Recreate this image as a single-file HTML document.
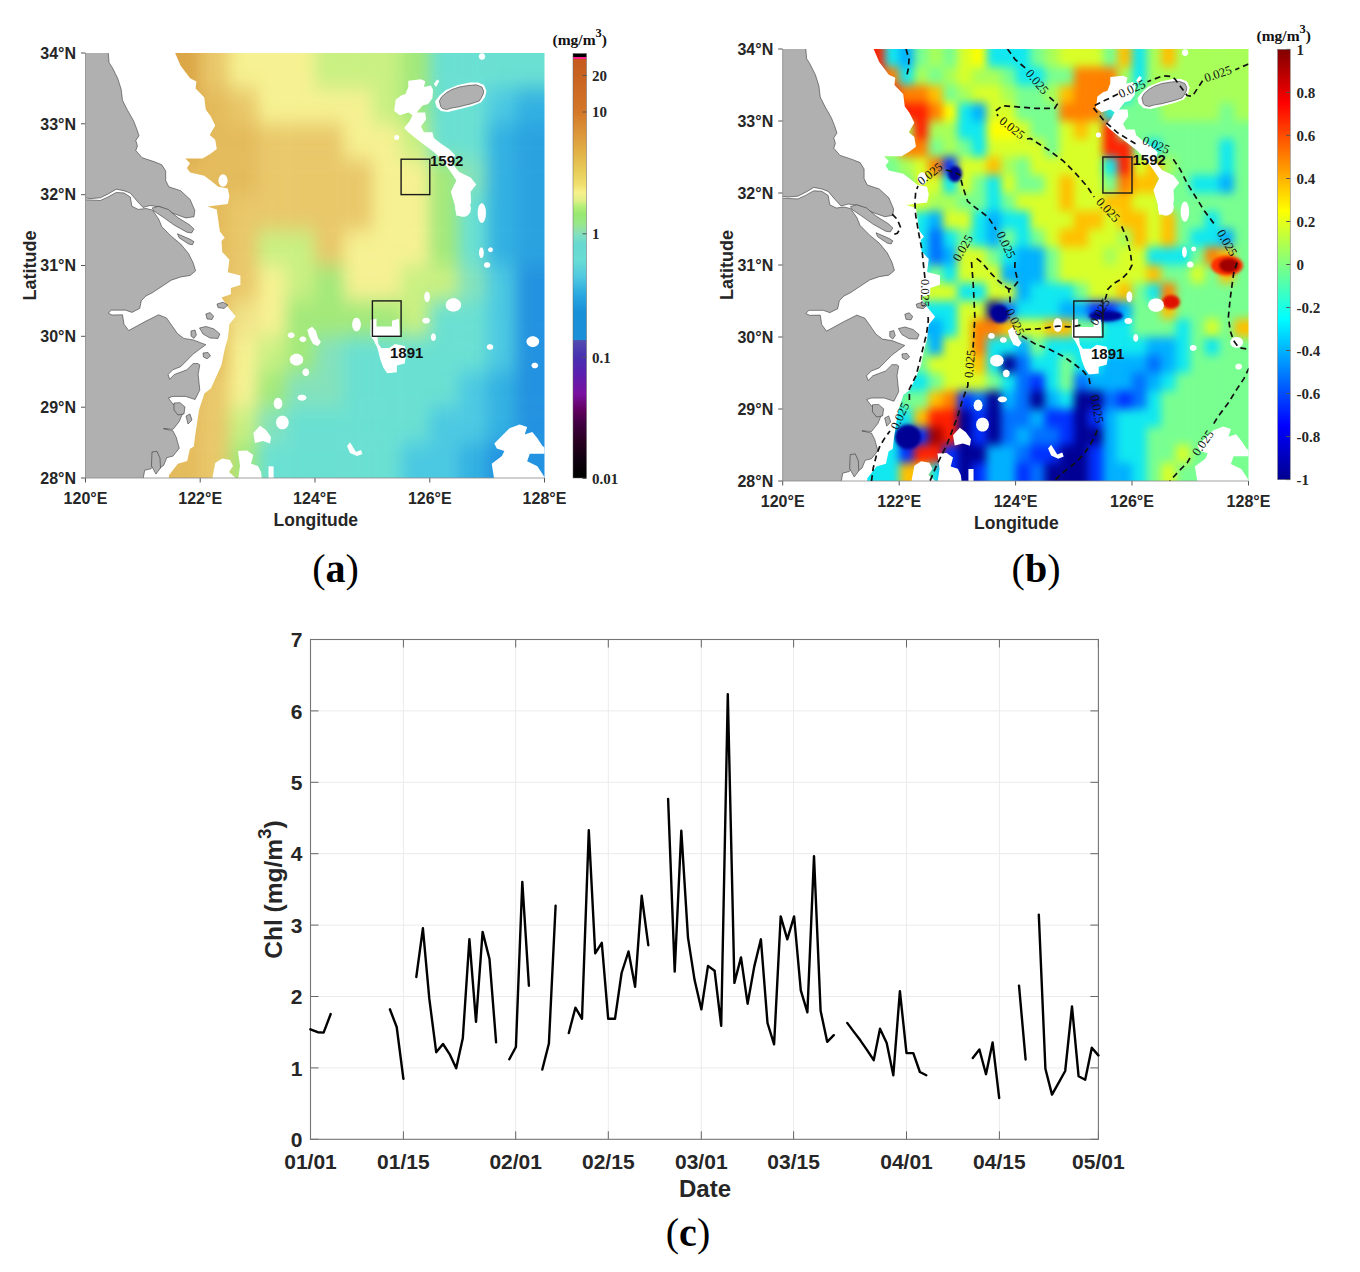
<!DOCTYPE html>
<html><head><meta charset="utf-8"><style>
html,body{margin:0;padding:0;background:#fff;width:1360px;height:1272px;overflow:hidden}
svg{display:block}
</style></head><body>
<svg width="1360" height="1272" viewBox="0 0 1360 1272">
<rect width="1360" height="1272" fill="#fff"/>
<g id="chartc">
<path d="M403.4 639.5V1139.3 M515.7 639.5V1139.3 M608.3 639.5V1139.3 M701.3 639.5V1139.3 M793.6 639.5V1139.3 M906.5 639.5V1139.3 M999.4 639.5V1139.3 M310.5 1067.9H1098.4 M310.5 996.5H1098.4 M310.5 925.1H1098.4 M310.5 853.7H1098.4 M310.5 782.3H1098.4 M310.5 710.9H1098.4" stroke="#ebebeb" stroke-width="1" fill="none"/>
<path d="M310.5 1139.3v-8M310.5 639.5v8 M403.4 1139.3v-8M403.4 639.5v8 M515.7 1139.3v-8M515.7 639.5v8 M608.3 1139.3v-8M608.3 639.5v8 M701.3 1139.3v-8M701.3 639.5v8 M793.6 1139.3v-8M793.6 639.5v8 M906.5 1139.3v-8M906.5 639.5v8 M999.4 1139.3v-8M999.4 639.5v8 M1098.4 1139.3v-8M1098.4 639.5v8 M310.5 1139.3h8M1098.4 1139.3h-8 M310.5 1067.9h8M1098.4 1067.9h-8 M310.5 996.5h8M1098.4 996.5h-8 M310.5 925.1h8M1098.4 925.1h-8 M310.5 853.7h8M1098.4 853.7h-8 M310.5 782.3h8M1098.4 782.3h-8 M310.5 710.9h8M1098.4 710.9h-8 M310.5 639.5h8M1098.4 639.5h-8" stroke="#666" stroke-width="1" fill="none"/>
<rect x="310.5" y="639.5" width="787.9" height="499.8" fill="none" stroke="#747474" stroke-width="1.1"/>
<path d="M310.4 1029.3 L317.7 1032.2 L323.6 1032.6 L330.7 1014.0 M389.9 1009.3 L396.7 1027.0 L403.4 1078.9 M416.3 977.0 L422.9 928.3 L429.3 998.7 L436.2 1052.2 L443.0 1044.0 L449.6 1054.1 L456.2 1068.3 L462.8 1038.3 L469.4 939.2 L476.0 1021.8 L482.6 931.9 L489.5 959.0 L496.1 1042.3 M509.3 1059.3 L515.9 1047.0 L522.3 881.9 L528.9 985.7 M542.3 1069.5 L548.9 1043.5 L555.6 905.7 M568.8 1033.0 L575.4 1007.7 L582.0 1018.8 L588.8 830.3 L595.2 953.4 L601.8 942.8 L608.2 1018.8 L615.0 1018.8 L621.6 973.0 L628.5 951.5 L635.1 986.7 L641.7 895.6 L648.3 945.2 M668.1 798.9 L674.7 971.6 L681.3 830.7 L688.0 937.6 L694.6 980.1 L701.4 1009.4 L708.0 965.9 L714.6 970.7 L721.2 1025.9 L727.8 694.3 L734.4 982.9 L741.0 957.4 L747.6 1003.7 L754.3 966.4 L760.9 939.3 L767.5 1023.0 L774.1 1044.3 L780.7 916.4 L787.3 939.3 L794.1 916.4 L800.8 990.4 L807.4 1012.3 L814.0 856.1 L820.6 1010.7 L827.2 1041.8 L833.8 1035.2 M847.2 1022.9 L853.9 1031.9 L860.5 1040.6 L867.1 1050.1 L873.7 1060.2 L880.0 1028.8 L886.7 1043.0 L893.3 1075.3 L899.9 991.1 L906.5 1053.1 L913.3 1053.1 L919.9 1072.0 L926.3 1075.3 M972.8 1058.0 L979.4 1049.5 L986.0 1074.2 L992.6 1042.4 L999.2 1098.0 M1019.0 985.6 L1025.6 1059.5 M1038.8 914.8 L1045.4 1068.8 L1052.0 1094.6 L1058.6 1082.9 L1065.2 1071.0 L1072.0 1006.5 L1078.6 1076.3 L1085.2 1079.8 L1091.8 1047.7 L1098.4 1055.4" stroke="#000" stroke-width="2.4" fill="none" stroke-linejoin="round" stroke-linecap="round"/>
<text x="302.5" y="1146.9" text-anchor="end" font-family="Liberation Sans, sans-serif" font-weight="bold" font-size="21" fill="#262626">0</text>
<text x="302.5" y="1075.5" text-anchor="end" font-family="Liberation Sans, sans-serif" font-weight="bold" font-size="21" fill="#262626">1</text>
<text x="302.5" y="1004.1" text-anchor="end" font-family="Liberation Sans, sans-serif" font-weight="bold" font-size="21" fill="#262626">2</text>
<text x="302.5" y="932.7" text-anchor="end" font-family="Liberation Sans, sans-serif" font-weight="bold" font-size="21" fill="#262626">3</text>
<text x="302.5" y="861.3" text-anchor="end" font-family="Liberation Sans, sans-serif" font-weight="bold" font-size="21" fill="#262626">4</text>
<text x="302.5" y="789.9" text-anchor="end" font-family="Liberation Sans, sans-serif" font-weight="bold" font-size="21" fill="#262626">5</text>
<text x="302.5" y="718.5" text-anchor="end" font-family="Liberation Sans, sans-serif" font-weight="bold" font-size="21" fill="#262626">6</text>
<text x="302.5" y="647.1" text-anchor="end" font-family="Liberation Sans, sans-serif" font-weight="bold" font-size="21" fill="#262626">7</text>
<text x="310.5" y="1169" text-anchor="middle" font-family="Liberation Sans, sans-serif" font-weight="bold" font-size="21" fill="#262626">01/01</text>
<text x="403.4" y="1169" text-anchor="middle" font-family="Liberation Sans, sans-serif" font-weight="bold" font-size="21" fill="#262626">01/15</text>
<text x="515.7" y="1169" text-anchor="middle" font-family="Liberation Sans, sans-serif" font-weight="bold" font-size="21" fill="#262626">02/01</text>
<text x="608.3" y="1169" text-anchor="middle" font-family="Liberation Sans, sans-serif" font-weight="bold" font-size="21" fill="#262626">02/15</text>
<text x="701.3" y="1169" text-anchor="middle" font-family="Liberation Sans, sans-serif" font-weight="bold" font-size="21" fill="#262626">03/01</text>
<text x="793.6" y="1169" text-anchor="middle" font-family="Liberation Sans, sans-serif" font-weight="bold" font-size="21" fill="#262626">03/15</text>
<text x="906.5" y="1169" text-anchor="middle" font-family="Liberation Sans, sans-serif" font-weight="bold" font-size="21" fill="#262626">04/01</text>
<text x="999.4" y="1169" text-anchor="middle" font-family="Liberation Sans, sans-serif" font-weight="bold" font-size="21" fill="#262626">04/15</text>
<text x="1098.4" y="1169" text-anchor="middle" font-family="Liberation Sans, sans-serif" font-weight="bold" font-size="21" fill="#262626">05/01</text>
<text x="705" y="1197" text-anchor="middle" font-family="Liberation Sans, sans-serif" font-weight="bold" font-size="24" fill="#262626">Date</text>
<text transform="translate(282.3,889.5) rotate(-90)" text-anchor="middle" font-family="Liberation Sans, sans-serif" font-weight="bold" font-size="24.5" fill="#262626">Chl (mg/m<tspan dy="-11" font-size="19">3</tspan><tspan dy="11">)</tspan></text>
<text x="688" y="1246" text-anchor="middle" font-family="Liberation Serif, serif" font-size="40" fill="#000">(<tspan font-weight="bold">c</tspan>)</text>
</g>
<svg x="85.5" y="53" width="459.0" height="425.0" viewBox="0 0 800 600" preserveAspectRatio="none" overflow="hidden"><defs><clipPath id="clipA"><polygon points="156.2,0.0 165.8,17.9 182.3,35.7 193.3,40.1 191.9,50.1 206.9,62.4 209.7,80.0 217.9,88.9 226.1,102.4 216.5,115.6 226.1,122.3 228.8,135.7 217.9,142.3 204.1,148.9 173.9,148.9 182.3,155.6 176.7,162.2 182.3,168.8 206.9,173.4 217.9,180.0 231.6,188.9 248.0,191.2 250.8,202.2 248.0,213.3 212.5,216.6 228.8,220.8 234.2,251.9 242.6,260.8 237.0,265.3 238.4,280.8 250.8,291.8 248.0,309.6 270.0,314.1 270.0,327.4 253.4,331.9 253.4,340.7 237.0,345.2 248.0,358.4 261.8,371.9 250.8,382.9 248.0,402.9 242.6,418.4 237.0,440.6 230.2,452.8 218.7,473.2 207.2,480.7 198.0,503.2 191.0,540.6 188.8,555.5 181.8,559.2 177.3,576.0 161.0,579.8 145.0,596.6 145.0,601.4 850.0,606.0 850.0,-6.0"/></clipPath><filter id="blurA" x="-20%" y="-20%" width="140%" height="140%" color-interpolation-filters="sRGB"><feGaussianBlur stdDeviation="14"/></filter></defs><g clip-path="url(#clipA)"><g filter="url(#blurA)"><rect x="-60.00" y="-60.00" width="110.40" height="110.40" fill="#dba646"/><rect x="50.00" y="-60.00" width="50.40" height="110.40" fill="#dba646"/><rect x="100.00" y="-60.00" width="50.40" height="110.40" fill="#dba646"/><rect x="150.00" y="-60.00" width="50.40" height="110.40" fill="#dba646"/><rect x="200.00" y="-60.00" width="50.40" height="110.40" fill="#e9c86a"/><rect x="250.00" y="-60.00" width="50.40" height="110.40" fill="#f6f192"/><rect x="300.00" y="-60.00" width="50.40" height="110.40" fill="#f6f192"/><rect x="350.00" y="-60.00" width="50.40" height="110.40" fill="#f6f192"/><rect x="400.00" y="-60.00" width="50.40" height="110.40" fill="#c9f082"/><rect x="450.00" y="-60.00" width="50.40" height="110.40" fill="#c9f082"/><rect x="500.00" y="-60.00" width="50.40" height="110.40" fill="#c9f082"/><rect x="550.00" y="-60.00" width="50.40" height="110.40" fill="#a3e97a"/><rect x="600.00" y="-60.00" width="50.40" height="110.40" fill="#6ae0d2"/><rect x="650.00" y="-60.00" width="50.40" height="110.40" fill="#6ae0d2"/><rect x="700.00" y="-60.00" width="50.40" height="110.40" fill="#6ae0d2"/><rect x="750.00" y="-60.00" width="110.40" height="110.40" fill="#6ae0d2"/><rect x="-60.00" y="50.00" width="110.40" height="50.40" fill="#dba646"/><rect x="50.00" y="50.00" width="50.40" height="50.40" fill="#dba646"/><rect x="100.00" y="50.00" width="50.40" height="50.40" fill="#dba646"/><rect x="150.00" y="50.00" width="50.40" height="50.40" fill="#dba646"/><rect x="200.00" y="50.00" width="50.40" height="50.40" fill="#e4bb5c"/><rect x="250.00" y="50.00" width="50.40" height="50.40" fill="#e9c86a"/><rect x="300.00" y="50.00" width="50.40" height="50.40" fill="#f6f192"/><rect x="350.00" y="50.00" width="50.40" height="50.40" fill="#f6f192"/><rect x="400.00" y="50.00" width="50.40" height="50.40" fill="#f6f192"/><rect x="450.00" y="50.00" width="50.40" height="50.40" fill="#f6f192"/><rect x="500.00" y="50.00" width="50.40" height="50.40" fill="#c9f082"/><rect x="550.00" y="50.00" width="50.40" height="50.40" fill="#a3e97a"/><rect x="600.00" y="50.00" width="50.40" height="50.40" fill="#6ae0d2"/><rect x="650.00" y="50.00" width="50.40" height="50.40" fill="#6ae0d2"/><rect x="700.00" y="50.00" width="50.40" height="50.40" fill="#4cc9e2"/><rect x="750.00" y="50.00" width="110.40" height="50.40" fill="#33b1e2"/><rect x="-60.00" y="100.00" width="110.40" height="50.40" fill="#dba646"/><rect x="50.00" y="100.00" width="50.40" height="50.40" fill="#dba646"/><rect x="100.00" y="100.00" width="50.40" height="50.40" fill="#dba646"/><rect x="150.00" y="100.00" width="50.40" height="50.40" fill="#dba646"/><rect x="200.00" y="100.00" width="50.40" height="50.40" fill="#e4bb5c"/><rect x="250.00" y="100.00" width="50.40" height="50.40" fill="#e4bb5c"/><rect x="300.00" y="100.00" width="50.40" height="50.40" fill="#e9c86a"/><rect x="350.00" y="100.00" width="50.40" height="50.40" fill="#e9c86a"/><rect x="400.00" y="100.00" width="50.40" height="50.40" fill="#e9c86a"/><rect x="450.00" y="100.00" width="50.40" height="50.40" fill="#f6f192"/><rect x="500.00" y="100.00" width="50.40" height="50.40" fill="#f6f192"/><rect x="550.00" y="100.00" width="50.40" height="50.40" fill="#c9f082"/><rect x="600.00" y="100.00" width="50.40" height="50.40" fill="#6ae0d2"/><rect x="650.00" y="100.00" width="50.40" height="50.40" fill="#6ae0d2"/><rect x="700.00" y="100.00" width="50.40" height="50.40" fill="#33b1e2"/><rect x="750.00" y="100.00" width="110.40" height="50.40" fill="#2aa2e0"/><rect x="-60.00" y="150.00" width="110.40" height="50.40" fill="#e4bb5c"/><rect x="50.00" y="150.00" width="50.40" height="50.40" fill="#e4bb5c"/><rect x="100.00" y="150.00" width="50.40" height="50.40" fill="#e4bb5c"/><rect x="150.00" y="150.00" width="50.40" height="50.40" fill="#e4bb5c"/><rect x="200.00" y="150.00" width="50.40" height="50.40" fill="#e4bb5c"/><rect x="250.00" y="150.00" width="50.40" height="50.40" fill="#e4bb5c"/><rect x="300.00" y="150.00" width="50.40" height="50.40" fill="#e9c86a"/><rect x="350.00" y="150.00" width="50.40" height="50.40" fill="#e9c86a"/><rect x="400.00" y="150.00" width="50.40" height="50.40" fill="#e9c86a"/><rect x="450.00" y="150.00" width="50.40" height="50.40" fill="#e9c86a"/><rect x="500.00" y="150.00" width="50.40" height="50.40" fill="#f6f192"/><rect x="550.00" y="150.00" width="50.40" height="50.40" fill="#f6f192"/><rect x="600.00" y="150.00" width="50.40" height="50.40" fill="#a3e97a"/><rect x="650.00" y="150.00" width="50.40" height="50.40" fill="#84e2bc"/><rect x="700.00" y="150.00" width="50.40" height="50.40" fill="#33b1e2"/><rect x="750.00" y="150.00" width="110.40" height="50.40" fill="#2aa2e0"/><rect x="-60.00" y="200.00" width="110.40" height="50.40" fill="#e4bb5c"/><rect x="50.00" y="200.00" width="50.40" height="50.40" fill="#e4bb5c"/><rect x="100.00" y="200.00" width="50.40" height="50.40" fill="#e4bb5c"/><rect x="150.00" y="200.00" width="50.40" height="50.40" fill="#e4bb5c"/><rect x="200.00" y="200.00" width="50.40" height="50.40" fill="#e4bb5c"/><rect x="250.00" y="200.00" width="50.40" height="50.40" fill="#e9c86a"/><rect x="300.00" y="200.00" width="50.40" height="50.40" fill="#e9c86a"/><rect x="350.00" y="200.00" width="50.40" height="50.40" fill="#e9c86a"/><rect x="400.00" y="200.00" width="50.40" height="50.40" fill="#e9c86a"/><rect x="450.00" y="200.00" width="50.40" height="50.40" fill="#e9c86a"/><rect x="500.00" y="200.00" width="50.40" height="50.40" fill="#f6f192"/><rect x="550.00" y="200.00" width="50.40" height="50.40" fill="#f6f192"/><rect x="600.00" y="200.00" width="50.40" height="50.40" fill="#a3e97a"/><rect x="650.00" y="200.00" width="50.40" height="50.40" fill="#6ae0d2"/><rect x="700.00" y="200.00" width="50.40" height="50.40" fill="#33b1e2"/><rect x="750.00" y="200.00" width="110.40" height="50.40" fill="#2aa2e0"/><rect x="-60.00" y="250.00" width="110.40" height="50.40" fill="#e4bb5c"/><rect x="50.00" y="250.00" width="50.40" height="50.40" fill="#e4bb5c"/><rect x="100.00" y="250.00" width="50.40" height="50.40" fill="#e4bb5c"/><rect x="150.00" y="250.00" width="50.40" height="50.40" fill="#e4bb5c"/><rect x="200.00" y="250.00" width="50.40" height="50.40" fill="#e4bb5c"/><rect x="250.00" y="250.00" width="50.40" height="50.40" fill="#e9c86a"/><rect x="300.00" y="250.00" width="50.40" height="50.40" fill="#c9f082"/><rect x="350.00" y="250.00" width="50.40" height="50.40" fill="#c9f082"/><rect x="400.00" y="250.00" width="50.40" height="50.40" fill="#e9c86a"/><rect x="450.00" y="250.00" width="50.40" height="50.40" fill="#f6f192"/><rect x="500.00" y="250.00" width="50.40" height="50.40" fill="#f6f192"/><rect x="550.00" y="250.00" width="50.40" height="50.40" fill="#f6f192"/><rect x="600.00" y="250.00" width="50.40" height="50.40" fill="#a3e97a"/><rect x="650.00" y="250.00" width="50.40" height="50.40" fill="#6ae0d2"/><rect x="700.00" y="250.00" width="50.40" height="50.40" fill="#33b1e2"/><rect x="750.00" y="250.00" width="110.40" height="50.40" fill="#2aa2e0"/><rect x="-60.00" y="300.00" width="110.40" height="50.40" fill="#e4bb5c"/><rect x="50.00" y="300.00" width="50.40" height="50.40" fill="#e4bb5c"/><rect x="100.00" y="300.00" width="50.40" height="50.40" fill="#e4bb5c"/><rect x="150.00" y="300.00" width="50.40" height="50.40" fill="#e4bb5c"/><rect x="200.00" y="300.00" width="50.40" height="50.40" fill="#e4bb5c"/><rect x="250.00" y="300.00" width="50.40" height="50.40" fill="#e9c86a"/><rect x="300.00" y="300.00" width="50.40" height="50.40" fill="#f6f192"/><rect x="350.00" y="300.00" width="50.40" height="50.40" fill="#c9f082"/><rect x="400.00" y="300.00" width="50.40" height="50.40" fill="#a3e97a"/><rect x="450.00" y="300.00" width="50.40" height="50.40" fill="#f6f192"/><rect x="500.00" y="300.00" width="50.40" height="50.40" fill="#f6f192"/><rect x="550.00" y="300.00" width="50.40" height="50.40" fill="#c9f082"/><rect x="600.00" y="300.00" width="50.40" height="50.40" fill="#c9f082"/><rect x="650.00" y="300.00" width="50.40" height="50.40" fill="#84e2bc"/><rect x="700.00" y="300.00" width="50.40" height="50.40" fill="#4cc9e2"/><rect x="750.00" y="300.00" width="110.40" height="50.40" fill="#2392e0"/><rect x="-60.00" y="350.00" width="110.40" height="50.40" fill="#e4bb5c"/><rect x="50.00" y="350.00" width="50.40" height="50.40" fill="#e4bb5c"/><rect x="100.00" y="350.00" width="50.40" height="50.40" fill="#e4bb5c"/><rect x="150.00" y="350.00" width="50.40" height="50.40" fill="#e4bb5c"/><rect x="200.00" y="350.00" width="50.40" height="50.40" fill="#e4bb5c"/><rect x="250.00" y="350.00" width="50.40" height="50.40" fill="#f1e288"/><rect x="300.00" y="350.00" width="50.40" height="50.40" fill="#f6f192"/><rect x="350.00" y="350.00" width="50.40" height="50.40" fill="#a3e97a"/><rect x="400.00" y="350.00" width="50.40" height="50.40" fill="#a3e97a"/><rect x="450.00" y="350.00" width="50.40" height="50.40" fill="#a3e97a"/><rect x="500.00" y="350.00" width="50.40" height="50.40" fill="#a3e97a"/><rect x="550.00" y="350.00" width="50.40" height="50.40" fill="#c9f082"/><rect x="600.00" y="350.00" width="50.40" height="50.40" fill="#6ae0d2"/><rect x="650.00" y="350.00" width="50.40" height="50.40" fill="#6ae0d2"/><rect x="700.00" y="350.00" width="50.40" height="50.40" fill="#4cc9e2"/><rect x="750.00" y="350.00" width="110.40" height="50.40" fill="#2392e0"/><rect x="-60.00" y="400.00" width="110.40" height="50.40" fill="#e4bb5c"/><rect x="50.00" y="400.00" width="50.40" height="50.40" fill="#e4bb5c"/><rect x="100.00" y="400.00" width="50.40" height="50.40" fill="#e4bb5c"/><rect x="150.00" y="400.00" width="50.40" height="50.40" fill="#e4bb5c"/><rect x="200.00" y="400.00" width="50.40" height="50.40" fill="#e4bb5c"/><rect x="250.00" y="400.00" width="50.40" height="50.40" fill="#f6f192"/><rect x="300.00" y="400.00" width="50.40" height="50.40" fill="#c9f082"/><rect x="350.00" y="400.00" width="50.40" height="50.40" fill="#a3e97a"/><rect x="400.00" y="400.00" width="50.40" height="50.40" fill="#84e2bc"/><rect x="450.00" y="400.00" width="50.40" height="50.40" fill="#6ae0d2"/><rect x="500.00" y="400.00" width="50.40" height="50.40" fill="#6ae0d2"/><rect x="550.00" y="400.00" width="50.40" height="50.40" fill="#6ae0d2"/><rect x="600.00" y="400.00" width="50.40" height="50.40" fill="#6ae0d2"/><rect x="650.00" y="400.00" width="50.40" height="50.40" fill="#6ae0d2"/><rect x="700.00" y="400.00" width="50.40" height="50.40" fill="#4cc9e2"/><rect x="750.00" y="400.00" width="110.40" height="50.40" fill="#2392e0"/><rect x="-60.00" y="450.00" width="110.40" height="50.40" fill="#e4bb5c"/><rect x="50.00" y="450.00" width="50.40" height="50.40" fill="#e4bb5c"/><rect x="100.00" y="450.00" width="50.40" height="50.40" fill="#e4bb5c"/><rect x="150.00" y="450.00" width="50.40" height="50.40" fill="#e4bb5c"/><rect x="200.00" y="450.00" width="50.40" height="50.40" fill="#e9c86a"/><rect x="250.00" y="450.00" width="50.40" height="50.40" fill="#f6f192"/><rect x="300.00" y="450.00" width="50.40" height="50.40" fill="#a3e97a"/><rect x="350.00" y="450.00" width="50.40" height="50.40" fill="#84e2bc"/><rect x="400.00" y="450.00" width="50.40" height="50.40" fill="#84e2bc"/><rect x="450.00" y="450.00" width="50.40" height="50.40" fill="#6ae0d2"/><rect x="500.00" y="450.00" width="50.40" height="50.40" fill="#6ae0d2"/><rect x="550.00" y="450.00" width="50.40" height="50.40" fill="#6ae0d2"/><rect x="600.00" y="450.00" width="50.40" height="50.40" fill="#6ae0d2"/><rect x="650.00" y="450.00" width="50.40" height="50.40" fill="#4cc9e2"/><rect x="700.00" y="450.00" width="50.40" height="50.40" fill="#33b1e2"/><rect x="750.00" y="450.00" width="110.40" height="50.40" fill="#2392e0"/><rect x="-60.00" y="500.00" width="110.40" height="50.40" fill="#e4bb5c"/><rect x="50.00" y="500.00" width="50.40" height="50.40" fill="#e4bb5c"/><rect x="100.00" y="500.00" width="50.40" height="50.40" fill="#e4bb5c"/><rect x="150.00" y="500.00" width="50.40" height="50.40" fill="#e4bb5c"/><rect x="200.00" y="500.00" width="50.40" height="50.40" fill="#e9c86a"/><rect x="250.00" y="500.00" width="50.40" height="50.40" fill="#c9f082"/><rect x="300.00" y="500.00" width="50.40" height="50.40" fill="#84e2bc"/><rect x="350.00" y="500.00" width="50.40" height="50.40" fill="#6ae0d2"/><rect x="400.00" y="500.00" width="50.40" height="50.40" fill="#6ae0d2"/><rect x="450.00" y="500.00" width="50.40" height="50.40" fill="#6ae0d2"/><rect x="500.00" y="500.00" width="50.40" height="50.40" fill="#6ae0d2"/><rect x="550.00" y="500.00" width="50.40" height="50.40" fill="#6ae0d2"/><rect x="600.00" y="500.00" width="50.40" height="50.40" fill="#4cc9e2"/><rect x="650.00" y="500.00" width="50.40" height="50.40" fill="#4cc9e2"/><rect x="700.00" y="500.00" width="50.40" height="50.40" fill="#33b1e2"/><rect x="750.00" y="500.00" width="110.40" height="50.40" fill="#2392e0"/><rect x="-60.00" y="550.00" width="110.40" height="110.40" fill="#e4bb5c"/><rect x="50.00" y="550.00" width="50.40" height="110.40" fill="#e4bb5c"/><rect x="100.00" y="550.00" width="50.40" height="110.40" fill="#e4bb5c"/><rect x="150.00" y="550.00" width="50.40" height="110.40" fill="#e4bb5c"/><rect x="200.00" y="550.00" width="50.40" height="110.40" fill="#e9c86a"/><rect x="250.00" y="550.00" width="50.40" height="110.40" fill="#a3e97a"/><rect x="300.00" y="550.00" width="50.40" height="110.40" fill="#6ae0d2"/><rect x="350.00" y="550.00" width="50.40" height="110.40" fill="#6ae0d2"/><rect x="400.00" y="550.00" width="50.40" height="110.40" fill="#6ae0d2"/><rect x="450.00" y="550.00" width="50.40" height="110.40" fill="#6ae0d2"/><rect x="500.00" y="550.00" width="50.40" height="110.40" fill="#6ae0d2"/><rect x="550.00" y="550.00" width="50.40" height="110.40" fill="#4cc9e2"/><rect x="600.00" y="550.00" width="50.40" height="110.40" fill="#4cc9e2"/><rect x="650.00" y="550.00" width="50.40" height="110.40" fill="#33b1e2"/><rect x="700.00" y="550.00" width="50.40" height="110.40" fill="#2392e0"/><rect x="750.00" y="550.00" width="110.40" height="110.40" fill="#2392e0"/></g></g><g fill="#fff"><polygon points="562.6,39.0 584.7,37.0 592.2,40.0 589.8,48.0 602.0,45.9 605.8,52.0 604.6,64.0 597.1,71.9 587.4,74.0 577.4,83.9 592.2,83.9 593.5,93.9 584.7,103.9 589.8,111.8 604.6,111.8 607.1,119.9 619.3,127.9 634.1,135.8 644.0,143.9 639.1,155.9 651.3,167.9 671.2,175.8 681.0,185.8 671.2,195.8 671.9,207.5 671.9,211.8 666.7,219.8 659.7,223.1 658.8,229.7 646.4,229.7 644.0,215.7 636.7,195.8 646.4,179.9 636.7,167.9 621.9,151.8 607.1,139.9 587.4,127.9 575.0,119.9 562.6,111.8 555.3,105.9 565.1,95.9 569.9,88.0 562.6,83.9 547.8,88.0 538.0,81.9 540.5,65.9 550.2,60.0 557.7,57.9 562.6,48.0"/><polygon points="698.0,225.9 697.5,231.2 695.9,235.8 693.5,238.8 690.7,239.9 687.9,238.8 685.5,235.8 684.0,231.2 683.4,225.9 684.0,220.5 685.5,216.0 687.9,213.0 690.7,211.9 693.5,213.0 695.9,216.0 697.5,220.5"/><polygon points="546.8,119.3 545.9,121.5 543.6,122.8 540.8,122.8 538.6,121.5 537.7,119.3 538.6,117.1 540.8,115.8 543.6,115.8 545.9,117.1"/><polygon points="696.6,4.9 695.6,7.8 692.8,9.6 689.3,9.6 686.6,7.8 685.5,4.9 686.6,2.0 689.3,0.2 692.8,0.2 695.6,2.0"/><polygon points="607.1,43.8 612.6,37.4 616.8,39.5 610.9,48.0"/><polygon points="496.9,376.5 507.2,375.1 507.2,386.1 534.2,386.1 534.2,377.9 546.2,375.1 547.8,400.0 508.8,401.2 510.5,410.8 515.6,416.3 529.2,416.3 539.4,410.8 556.3,413.6 559.8,421.8 556.3,438.4 542.7,441.2 542.7,450.8 525.8,452.2 519.0,443.9 513.8,432.8 508.8,416.3 502.0,405.3 496.9,400.0"/><polygon points="480.0,383.3 479.2,387.5 477.1,390.9 474.0,392.8 470.6,392.8 467.5,390.9 465.4,387.5 464.7,383.3 465.4,379.1 467.5,375.7 470.6,373.8 474.0,373.8 477.1,375.7 479.2,379.1"/><polygon points="654.8,355.8 653.5,359.9 649.7,363.3 644.2,365.1 638.2,365.1 632.7,363.3 629.0,359.9 627.6,355.8 629.0,351.6 632.7,348.3 638.2,346.4 644.2,346.4 649.7,348.3 653.5,351.6"/><polygon points="600.4,344.2 599.8,348.0 597.9,350.8 595.4,351.8 592.9,350.8 591.0,348.0 590.3,344.2 591.0,340.4 592.9,337.6 595.4,336.6 597.9,337.6 599.8,340.4"/><polygon points="600.4,377.8 599.5,379.9 597.0,381.5 593.6,382.0 590.2,381.5 587.8,379.9 586.8,377.8 587.8,375.7 590.2,374.1 593.6,373.6 597.0,374.1 599.5,375.7"/><polygon points="610.7,401.2 610.1,404.0 608.5,406.0 606.4,406.7 604.2,406.0 602.6,404.0 602.0,401.2 602.6,398.5 604.2,396.5 606.4,395.7 608.5,396.5 610.1,398.5"/><polygon points="379.6,432.8 378.4,436.5 375.1,439.4 370.4,441.0 365.1,441.0 360.4,439.4 357.1,436.5 355.9,432.8 357.1,429.2 360.4,426.3 365.1,424.7 370.4,424.7 375.1,426.3 378.4,429.2"/><polygon points="386.6,391.1 394.8,386.1 401.7,392.5 405.2,402.4 410.3,408.0 405.2,413.6 396.5,410.8 389.5,399.5"/><polygon points="364.4,398.5 363.3,400.9 360.3,402.4 356.7,402.4 353.7,400.9 352.6,398.5 353.7,396.1 356.7,394.6 360.3,394.6 363.3,396.1"/><polygon points="384.8,404.0 383.7,406.5 380.7,407.9 377.1,407.9 374.1,406.5 373.0,404.0 374.1,401.6 377.1,400.2 380.7,400.2 383.7,401.6"/><polygon points="389.9,450.8 388.8,454.0 385.8,456.0 382.1,456.0 379.2,454.0 378.0,450.8 379.2,447.5 382.1,445.5 385.8,445.5 388.8,447.5"/><polygon points="384.8,486.5 383.4,489.0 379.5,490.5 374.8,490.5 371.0,489.0 369.5,486.5 371.0,484.0 374.8,482.5 379.5,482.5 383.4,484.0"/><polygon points="790.8,407.4 789.7,410.7 786.6,413.4 782.1,414.9 777.1,414.9 772.7,413.4 769.6,410.7 768.5,407.4 769.6,404.1 772.7,401.5 777.1,400.0 782.1,400.0 786.6,401.5 789.7,404.1"/><polygon points="710.9,415.1 709.8,417.6 706.8,419.1 703.2,419.1 700.2,417.6 699.1,415.1 700.2,412.6 703.2,411.0 706.8,411.0 709.8,412.6"/><polygon points="789.0,441.2 787.9,443.7 784.9,445.2 781.3,445.2 778.3,443.7 777.2,441.2 778.3,438.7 781.3,437.2 784.9,437.2 787.9,438.7"/><polygon points="712.5,551.2 739.0,529.7 756.6,524.3 769.8,527.9 765.5,538.6 778.7,535.1 787.6,544.0 796.5,554.8 802.6,558.4 802.6,565.6 774.4,565.6 769.8,576.3 787.6,583.5 796.5,594.2 802.6,602.8 712.5,602.8 708.0,579.8 725.8,569.1 730.1,561.9 716.9,558.4"/><polygon points="226.1,578.8 237.9,572.6 251.9,574.6 257.1,583.1 250.1,591.5 262.3,600.3 262.3,602.8 220.5,602.8"/><polygon points="265.8,561.9 281.5,561.2 292.5,567.5 288.5,579.8 300.7,583.1 305.9,591.5 307.6,602.8 265.8,602.8 269.3,583.1"/><polygon points="319.0,583.5 327.8,583.5 327.8,602.8 319.0,602.8"/><polygon points="292.5,536.5 304.1,526.2 314.6,532.2 323.3,542.1 321.6,551.2 309.4,547.8 295.4,550.6"/><polygon points="354.3,521.6 353.2,525.9 350.1,529.4 345.7,531.3 340.7,531.3 336.2,529.4 333.1,525.9 332.0,521.6 333.1,517.4 336.2,513.9 340.7,512.0 345.7,512.0 350.1,513.9 353.2,517.4"/><polygon points="343.2,494.8 342.2,498.8 339.3,501.8 335.5,502.9 331.7,501.8 328.9,498.8 327.8,494.8 328.9,490.8 331.7,487.9 335.5,486.8 339.3,487.9 342.2,490.8"/><polygon points="385.2,486.8 383.7,488.9 379.9,490.3 375.1,490.3 371.3,488.9 369.8,486.8 371.3,484.6 375.1,483.3 379.9,483.3 383.7,484.6"/><polygon points="455.8,554.8 461.0,549.5 466.2,556.2 471.5,563.3 480.2,560.5 482.6,566.1 473.2,569.1 461.0,564.7"/><polygon points="671.9,219.5 670.5,224.7 666.7,228.9 661.2,231.2 655.1,231.2 649.5,228.9 645.7,224.7 644.4,219.5 645.7,214.3 649.5,210.1 655.1,207.8 661.2,207.8 666.7,210.1 670.5,214.3"/><polygon points="694.2,282.1 693.4,286.6 691.3,289.5 688.7,289.5 686.6,286.6 685.8,282.1 686.6,277.5 688.7,274.7 691.3,274.7 693.4,277.5"/><polygon points="710.2,277.7 709.0,280.2 705.9,281.2 702.8,280.2 701.5,277.7 702.8,275.2 705.9,274.2 709.0,275.2"/><polygon points="705.7,299.3 704.6,301.8 701.7,303.3 698.2,303.3 695.3,301.8 694.2,299.3 695.3,296.8 698.2,295.3 701.7,295.3 704.6,296.8"/><polygon points="247.8,180.0 246.7,184.4 243.7,187.7 239.7,188.9 235.6,187.7 232.6,184.4 231.5,180.0 232.6,175.6 235.6,172.3 239.7,171.1 243.7,172.3 246.7,175.6"/><polygon points="609.2,68.5 617.9,59.3 628.3,52.2 649.2,45.2 670.2,41.6 684.1,41.6 694.6,45.2 698.9,53.6 696.3,62.1 689.3,69.9 673.6,74.8 652.7,79.1 631.8,83.3 619.6,81.9 611.8,76.2"/></g><g fill="#b0b0b0" stroke="#222" stroke-width="0.8" vector-effect="non-scaling-stroke"><polygon points="-9.6,-7.1 39.7,-7.1 39.7,0.0 41.1,13.6 46.5,20.2 56.1,35.7 62.2,51.2 64.5,66.8 72.7,80.0 83.7,95.7 89.1,106.7 93.2,116.8 87.7,123.4 90.5,131.2 87.7,137.8 98.6,147.8 119.2,153.3 133.0,157.8 139.8,166.7 139.8,180.0 145.2,188.9 165.8,194.4 182.3,206.7 190.5,222.2 189.1,231.1 175.2,232.9 150.8,225.9 129.8,217.4 112.4,215.3 100.2,218.1 89.8,208.9 78.1,197.8 67.1,194.4 53.5,192.3 39.7,198.9 26.0,204.4 8.2,205.6 -9.6,203.3"/><polygon points="-9.6,206.8 8.2,207.5 26.0,208.2 39.2,203.3 53.5,196.9 67.1,197.6 78.1,203.3 80.9,216.4 91.9,220.8 105.4,219.5 116.4,221.6 127.4,234.2 133.0,245.2 149.4,258.6 165.8,269.6 179.5,283.1 187.7,296.3 191.9,307.5 182.3,314.1 165.8,316.2 149.4,320.8 133.0,329.6 116.4,338.5 105.4,342.9 97.3,349.6 94.5,360.7 80.9,366.2 69.9,363.0 45.1,363.0 39.7,367.3 46.2,369.9 64.5,369.6 67.1,382.9 75.3,391.8 105.4,378.5 127.4,369.6 141.2,374.0 160.3,396.1 171.3,402.9 187.7,405.0 209.7,411.8 198.7,418.4 187.7,425.1 176.7,434.0 165.8,442.9 152.2,447.2 144.0,453.9 146.6,460.5 154.8,453.9 176.7,447.2 187.7,438.4 195.9,438.4 199.2,440.3 196.4,453.6 199.2,475.9 191.0,489.2 174.5,484.8 152.5,484.8 144.3,486.9 152.5,495.8 166.3,498.1 169.1,509.1 163.5,520.2 152.5,531.4 136.1,530.3 152.5,533.5 158.1,542.4 163.5,557.9 152.5,569.1 141.7,571.3 136.1,582.4 127.9,586.9 119.7,582.4 114.2,586.9 103.2,589.1 100.6,600.3 98.8,608.5 -9.6,608.5"/><polygon points="116.4,218.7 127.4,216.4 144.0,220.8 160.3,232.0 182.3,243.1 189.1,248.6 184.9,254.1 176.7,253.0 154.8,243.1 135.6,232.0 119.2,223.1"/><polygon points="160.3,255.2 182.3,263.0 189.1,266.4 186.3,270.8 179.5,269.6 163.1,260.8"/><polygon points="198.7,388.2 210.0,386.1 224.0,389.6 234.2,396.7 230.9,402.9 217.0,402.4 204.8,396.7"/><polygon points="209.7,368.5 217.0,366.4 223.3,371.3 220.5,376.2 211.8,375.5"/><polygon points="183.9,392.5 190.8,391.1 193.3,398.1 189.1,402.9 183.9,399.5"/><polygon points="229.2,354.4 239.7,351.8 248.0,355.8 241.4,360.7 230.9,359.3"/><polygon points="204.8,423.5 213.5,422.8 217.9,427.8 211.8,431.7 205.7,429.2"/><polygon points="154.2,494.1 164.7,493.6 173.4,499.8 171.7,509.6 161.2,511.1 154.2,504.0"/><polygon points="115.9,563.3 124.6,562.4 129.8,571.8 130.7,585.9 122.9,594.4 115.0,583.1"/><polygon points="175.2,512.5 182.1,509.6 185.6,518.1 178.6,523.8"/><polygon points="616.8,67.9 620.5,62.1 629.2,55.9 638.8,51.5 651.3,48.0 666.7,45.9 681.0,44.9 690.9,48.0 693.9,53.6 693.3,57.9 689.3,64.2 686.0,67.9 671.2,71.9 661.4,73.8 651.3,76.0 638.8,77.6 629.2,79.9 622.2,78.4 619.3,76.0"/></g></svg>
<path d="M85.5 478v4.5 M200.2 478v4.5 M315.0 478v4.5 M429.8 478v4.5 M544.5 478v4.5 M85.5 53.0h-4.5 M85.5 123.8h-4.5 M85.5 194.7h-4.5 M85.5 265.5h-4.5 M85.5 336.3h-4.5 M85.5 407.2h-4.5 M85.5 478.0h-4.5" stroke="#555" stroke-width="1" fill="none"/><path d="M85.5 53V478H544.5" stroke="#888" stroke-width="0.8" fill="none"/><text x="85.5" y="504.0" text-anchor="middle" font-family="Liberation Sans, sans-serif" font-weight="bold" font-size="16" fill="#262626">120°E</text><text x="200.2" y="504.0" text-anchor="middle" font-family="Liberation Sans, sans-serif" font-weight="bold" font-size="16" fill="#262626">122°E</text><text x="315.0" y="504.0" text-anchor="middle" font-family="Liberation Sans, sans-serif" font-weight="bold" font-size="16" fill="#262626">124°E</text><text x="429.8" y="504.0" text-anchor="middle" font-family="Liberation Sans, sans-serif" font-weight="bold" font-size="16" fill="#262626">126°E</text><text x="544.5" y="504.0" text-anchor="middle" font-family="Liberation Sans, sans-serif" font-weight="bold" font-size="16" fill="#262626">128°E</text><text x="76.0" y="58.7" text-anchor="end" font-family="Liberation Sans, sans-serif" font-weight="bold" font-size="16" fill="#262626">34°N</text><text x="76.0" y="129.5" text-anchor="end" font-family="Liberation Sans, sans-serif" font-weight="bold" font-size="16" fill="#262626">33°N</text><text x="76.0" y="200.4" text-anchor="end" font-family="Liberation Sans, sans-serif" font-weight="bold" font-size="16" fill="#262626">32°N</text><text x="76.0" y="271.2" text-anchor="end" font-family="Liberation Sans, sans-serif" font-weight="bold" font-size="16" fill="#262626">31°N</text><text x="76.0" y="342.0" text-anchor="end" font-family="Liberation Sans, sans-serif" font-weight="bold" font-size="16" fill="#262626">30°N</text><text x="76.0" y="412.9" text-anchor="end" font-family="Liberation Sans, sans-serif" font-weight="bold" font-size="16" fill="#262626">29°N</text><text x="76.0" y="483.7" text-anchor="end" font-family="Liberation Sans, sans-serif" font-weight="bold" font-size="16" fill="#262626">28°N</text><text x="315.8" y="526.0" text-anchor="middle" font-family="Liberation Sans, sans-serif" font-weight="bold" font-size="17.5" fill="#262626">Longitude</text><text transform="translate(35.5,265.5) rotate(-90)" text-anchor="middle" font-family="Liberation Sans, sans-serif" font-weight="bold" font-size="18" fill="#262626">Latitude</text>
<rect x="401.1" y="159.2" width="28.7" height="35.4" fill="none" stroke="#1a1a1a" stroke-width="1.4"/>
<rect x="372.4" y="300.9" width="28.7" height="35.4" fill="none" stroke="#1a1a1a" stroke-width="1.4"/>
<text x="430" y="166" font-family="Liberation Sans, sans-serif" font-weight="bold" font-size="15" fill="#111">1592</text>
<text x="390" y="357.5" font-family="Liberation Sans, sans-serif" font-weight="bold" font-size="15" fill="#111">1891</text>
<defs><linearGradient id="cbA" x1="0" y1="0" x2="0" y2="1"><stop offset="0.0000" stop-color="#000000"/><stop offset="0.0071" stop-color="#000000"/><stop offset="0.0073" stop-color="#ff1f8f"/><stop offset="0.0122" stop-color="#ff1f8f"/><stop offset="0.0125" stop-color="#c55a20"/><stop offset="0.0530" stop-color="#c86220"/><stop offset="0.1378" stop-color="#d47828"/><stop offset="0.1955" stop-color="#dc9a3c"/><stop offset="0.2367" stop-color="#e2b448"/><stop offset="0.2768" stop-color="#e8cc58"/><stop offset="0.3098" stop-color="#f0e070"/><stop offset="0.3263" stop-color="#f8f08a"/><stop offset="0.3463" stop-color="#e0f088"/><stop offset="0.3585" stop-color="#b8f078"/><stop offset="0.3781" stop-color="#98e870"/><stop offset="0.3993" stop-color="#98e888"/><stop offset="0.4158" stop-color="#90e0a8"/><stop offset="0.4276" stop-color="#80e0c0"/><stop offset="0.4483" stop-color="#68d8d0"/><stop offset="0.4865" stop-color="#68dcd4"/><stop offset="0.5265" stop-color="#50c8e0"/><stop offset="0.5680" stop-color="#2aa8e0"/><stop offset="0.6090" stop-color="#1890d8"/><stop offset="0.6749" stop-color="#1a90d8"/><stop offset="0.6761" stop-color="#5050b0"/><stop offset="0.6820" stop-color="#5048b0"/><stop offset="0.7150" stop-color="#4830b0"/><stop offset="0.7515" stop-color="#5a20b0"/><stop offset="0.8021" stop-color="#7a10a0"/><stop offset="0.8398" stop-color="#600060"/><stop offset="0.8728" stop-color="#400040"/><stop offset="0.9145" stop-color="#280020"/><stop offset="0.9552" stop-color="#100010"/><stop offset="0.9918" stop-color="#000000"/><stop offset="1.0000" stop-color="#000000"/></linearGradient></defs><rect x="573" y="53.5" width="13.5" height="424.5" fill="url(#cbA)" stroke="#666" stroke-width="0.5"/>
<path d="M586.5 75.5h-4" stroke="#555" stroke-width="1"/>
<text x="592" y="80.7" font-family="Liberation Serif, serif" font-weight="bold" font-size="15" fill="#262626">20</text>
<path d="M586.5 112h-4" stroke="#555" stroke-width="1"/>
<text x="592" y="117.2" font-family="Liberation Serif, serif" font-weight="bold" font-size="15" fill="#262626">10</text>
<path d="M586.5 233.8h-4" stroke="#555" stroke-width="1"/>
<text x="592" y="239.0" font-family="Liberation Serif, serif" font-weight="bold" font-size="15" fill="#262626">1</text>
<path d="M586.5 357.3h-4" stroke="#555" stroke-width="1"/>
<text x="592" y="362.5" font-family="Liberation Serif, serif" font-weight="bold" font-size="15" fill="#262626">0.1</text>
<path d="M586.5 478.5h-4" stroke="#555" stroke-width="1"/>
<text x="592" y="483.7" font-family="Liberation Serif, serif" font-weight="bold" font-size="15" fill="#262626">0.01</text>
<text x="552.5" y="44.8" font-family="Liberation Serif, serif" font-weight="bold" font-size="15.5" fill="#111">(mg/m<tspan dy="-8" font-size="12.5">3</tspan><tspan dy="8">)</tspan></text>
<text x="335.5" y="582" text-anchor="middle" font-family="Liberation Serif, serif" font-size="40" fill="#000">(<tspan font-weight="bold">a</tspan>)</text>
<svg x="782.7" y="49" width="465.8" height="432.0" viewBox="0 0 800 600" preserveAspectRatio="none" overflow="hidden"><defs><clipPath id="clipB"><polygon points="156.2,0.0 165.8,17.9 182.3,35.7 193.3,40.1 191.9,50.1 206.9,62.4 209.7,80.0 217.9,88.9 226.1,102.4 216.5,115.6 226.1,122.3 228.8,135.7 217.9,142.3 204.1,148.9 173.9,148.9 182.3,155.6 176.7,162.2 182.3,168.8 206.9,173.4 217.9,180.0 231.6,188.9 248.0,191.2 250.8,202.2 248.0,213.3 212.5,216.6 228.8,220.8 234.2,251.9 242.6,260.8 237.0,265.3 238.4,280.8 250.8,291.8 248.0,309.6 270.0,314.1 270.0,327.4 253.4,331.9 253.4,340.7 237.0,345.2 248.0,358.4 261.8,371.9 250.8,382.9 248.0,402.9 242.6,418.4 237.0,440.6 230.2,452.8 218.7,473.2 207.2,480.7 198.0,503.2 191.0,540.6 188.8,555.5 181.8,559.2 177.3,576.0 161.0,579.8 145.0,596.6 145.0,601.4 850.0,606.0 850.0,-6.0"/></clipPath><filter id="blurB" x="-20%" y="-20%" width="140%" height="140%" color-interpolation-filters="sRGB"><feGaussianBlur stdDeviation="7"/></filter></defs><g clip-path="url(#clipB)"><g filter="url(#blurB)"><rect x="-60.00" y="-60.00" width="85.40" height="85.40" fill="#ff2000"/><rect x="25.00" y="-60.00" width="25.40" height="85.40" fill="#ff2000"/><rect x="50.00" y="-60.00" width="25.40" height="85.40" fill="#ff2000"/><rect x="75.00" y="-60.00" width="25.40" height="85.40" fill="#ff2000"/><rect x="100.00" y="-60.00" width="25.40" height="85.40" fill="#ff2000"/><rect x="125.00" y="-60.00" width="25.40" height="85.40" fill="#ff2000"/><rect x="150.00" y="-60.00" width="25.40" height="85.40" fill="#ff2000"/><rect x="175.00" y="-60.00" width="25.40" height="85.40" fill="#10e8f0"/><rect x="200.00" y="-60.00" width="25.40" height="85.40" fill="#00b0ff"/><rect x="225.00" y="-60.00" width="25.40" height="85.40" fill="#78ff90"/><rect x="250.00" y="-60.00" width="25.40" height="85.40" fill="#a8ff58"/><rect x="275.00" y="-60.00" width="25.40" height="85.40" fill="#78ff90"/><rect x="300.00" y="-60.00" width="25.40" height="85.40" fill="#d8ff28"/><rect x="325.00" y="-60.00" width="25.40" height="85.40" fill="#ffff00"/><rect x="350.00" y="-60.00" width="25.40" height="85.40" fill="#10e8f0"/><rect x="375.00" y="-60.00" width="25.40" height="85.40" fill="#10e8f0"/><rect x="400.00" y="-60.00" width="25.40" height="85.40" fill="#10e8f0"/><rect x="425.00" y="-60.00" width="25.40" height="85.40" fill="#78ff90"/><rect x="450.00" y="-60.00" width="25.40" height="85.40" fill="#a8ff58"/><rect x="475.00" y="-60.00" width="25.40" height="85.40" fill="#d8ff28"/><rect x="500.00" y="-60.00" width="25.40" height="85.40" fill="#d8ff28"/><rect x="525.00" y="-60.00" width="25.40" height="85.40" fill="#d8ff28"/><rect x="550.00" y="-60.00" width="25.40" height="85.40" fill="#78ff90"/><rect x="575.00" y="-60.00" width="25.40" height="85.40" fill="#ffc000"/><rect x="600.00" y="-60.00" width="25.40" height="85.40" fill="#10e8f0"/><rect x="625.00" y="-60.00" width="25.40" height="85.40" fill="#a8ff58"/><rect x="650.00" y="-60.00" width="25.40" height="85.40" fill="#ffc000"/><rect x="675.00" y="-60.00" width="25.40" height="85.40" fill="#a8ff58"/><rect x="700.00" y="-60.00" width="25.40" height="85.40" fill="#a8ff58"/><rect x="725.00" y="-60.00" width="25.40" height="85.40" fill="#a8ff58"/><rect x="750.00" y="-60.00" width="25.40" height="85.40" fill="#a8ff58"/><rect x="775.00" y="-60.00" width="85.40" height="85.40" fill="#a8ff58"/><rect x="-60.00" y="25.00" width="85.40" height="25.40" fill="#ff2000"/><rect x="25.00" y="25.00" width="25.40" height="25.40" fill="#ff2000"/><rect x="50.00" y="25.00" width="25.40" height="25.40" fill="#ff2000"/><rect x="75.00" y="25.00" width="25.40" height="25.40" fill="#ff2000"/><rect x="100.00" y="25.00" width="25.40" height="25.40" fill="#ff2000"/><rect x="125.00" y="25.00" width="25.40" height="25.40" fill="#ff2000"/><rect x="150.00" y="25.00" width="25.40" height="25.40" fill="#ff2000"/><rect x="175.00" y="25.00" width="25.40" height="25.40" fill="#ff8000"/><rect x="200.00" y="25.00" width="25.40" height="25.40" fill="#10e8f0"/><rect x="225.00" y="25.00" width="25.40" height="25.40" fill="#a8ff58"/><rect x="250.00" y="25.00" width="25.40" height="25.40" fill="#78ff90"/><rect x="275.00" y="25.00" width="25.40" height="25.40" fill="#a8ff58"/><rect x="300.00" y="25.00" width="25.40" height="25.40" fill="#d8ff28"/><rect x="325.00" y="25.00" width="25.40" height="25.40" fill="#a8ff58"/><rect x="350.00" y="25.00" width="25.40" height="25.40" fill="#a8ff58"/><rect x="375.00" y="25.00" width="25.40" height="25.40" fill="#78ff90"/><rect x="400.00" y="25.00" width="25.40" height="25.40" fill="#10e8f0"/><rect x="425.00" y="25.00" width="25.40" height="25.40" fill="#10e8f0"/><rect x="450.00" y="25.00" width="25.40" height="25.40" fill="#78ff90"/><rect x="475.00" y="25.00" width="25.40" height="25.40" fill="#78ff90"/><rect x="500.00" y="25.00" width="25.40" height="25.40" fill="#ff8000"/><rect x="525.00" y="25.00" width="25.40" height="25.40" fill="#ff8000"/><rect x="550.00" y="25.00" width="25.40" height="25.40" fill="#ff8000"/><rect x="575.00" y="25.00" width="25.40" height="25.40" fill="#a8ff58"/><rect x="600.00" y="25.00" width="25.40" height="25.40" fill="#10e8f0"/><rect x="625.00" y="25.00" width="25.40" height="25.40" fill="#a8ff58"/><rect x="650.00" y="25.00" width="25.40" height="25.40" fill="#a8ff58"/><rect x="675.00" y="25.00" width="25.40" height="25.40" fill="#a8ff58"/><rect x="700.00" y="25.00" width="25.40" height="25.40" fill="#a8ff58"/><rect x="725.00" y="25.00" width="25.40" height="25.40" fill="#a8ff58"/><rect x="750.00" y="25.00" width="25.40" height="25.40" fill="#a8ff58"/><rect x="775.00" y="25.00" width="85.40" height="25.40" fill="#a8ff58"/><rect x="-60.00" y="50.00" width="85.40" height="25.40" fill="#ff2000"/><rect x="25.00" y="50.00" width="25.40" height="25.40" fill="#ff2000"/><rect x="50.00" y="50.00" width="25.40" height="25.40" fill="#ff2000"/><rect x="75.00" y="50.00" width="25.40" height="25.40" fill="#ff2000"/><rect x="100.00" y="50.00" width="25.40" height="25.40" fill="#ff2000"/><rect x="125.00" y="50.00" width="25.40" height="25.40" fill="#ff2000"/><rect x="150.00" y="50.00" width="25.40" height="25.40" fill="#ff2000"/><rect x="175.00" y="50.00" width="25.40" height="25.40" fill="#ff2000"/><rect x="200.00" y="50.00" width="25.40" height="25.40" fill="#ff8000"/><rect x="225.00" y="50.00" width="25.40" height="25.40" fill="#ff8000"/><rect x="250.00" y="50.00" width="25.40" height="25.40" fill="#ffc000"/><rect x="275.00" y="50.00" width="25.40" height="25.40" fill="#78ff90"/><rect x="300.00" y="50.00" width="25.40" height="25.40" fill="#a8ff58"/><rect x="325.00" y="50.00" width="25.40" height="25.40" fill="#d8ff28"/><rect x="350.00" y="50.00" width="25.40" height="25.40" fill="#d8ff28"/><rect x="375.00" y="50.00" width="25.40" height="25.40" fill="#a8ff58"/><rect x="400.00" y="50.00" width="25.40" height="25.40" fill="#78ff90"/><rect x="425.00" y="50.00" width="25.40" height="25.40" fill="#78ff90"/><rect x="450.00" y="50.00" width="25.40" height="25.40" fill="#a8ff58"/><rect x="475.00" y="50.00" width="25.40" height="25.40" fill="#ffc000"/><rect x="500.00" y="50.00" width="25.40" height="25.40" fill="#ff8000"/><rect x="525.00" y="50.00" width="25.40" height="25.40" fill="#ff8000"/><rect x="550.00" y="50.00" width="25.40" height="25.40" fill="#ff8000"/><rect x="575.00" y="50.00" width="25.40" height="25.40" fill="#10e8f0"/><rect x="600.00" y="50.00" width="25.40" height="25.40" fill="#78ff90"/><rect x="625.00" y="50.00" width="25.40" height="25.40" fill="#a8ff58"/><rect x="650.00" y="50.00" width="25.40" height="25.40" fill="#a8ff58"/><rect x="675.00" y="50.00" width="25.40" height="25.40" fill="#a8ff58"/><rect x="700.00" y="50.00" width="25.40" height="25.40" fill="#a8ff58"/><rect x="725.00" y="50.00" width="25.40" height="25.40" fill="#a8ff58"/><rect x="750.00" y="50.00" width="25.40" height="25.40" fill="#a8ff58"/><rect x="775.00" y="50.00" width="85.40" height="25.40" fill="#a8ff58"/><rect x="-60.00" y="75.00" width="85.40" height="25.40" fill="#ff2000"/><rect x="25.00" y="75.00" width="25.40" height="25.40" fill="#ff2000"/><rect x="50.00" y="75.00" width="25.40" height="25.40" fill="#ff2000"/><rect x="75.00" y="75.00" width="25.40" height="25.40" fill="#ff2000"/><rect x="100.00" y="75.00" width="25.40" height="25.40" fill="#ff2000"/><rect x="125.00" y="75.00" width="25.40" height="25.40" fill="#ff2000"/><rect x="150.00" y="75.00" width="25.40" height="25.40" fill="#ff2000"/><rect x="175.00" y="75.00" width="25.40" height="25.40" fill="#ff2000"/><rect x="200.00" y="75.00" width="25.40" height="25.40" fill="#ff2000"/><rect x="225.00" y="75.00" width="25.40" height="25.40" fill="#ff2000"/><rect x="250.00" y="75.00" width="25.40" height="25.40" fill="#ff8000"/><rect x="275.00" y="75.00" width="25.40" height="25.40" fill="#ffff00"/><rect x="300.00" y="75.00" width="25.40" height="25.40" fill="#10e8f0"/><rect x="325.00" y="75.00" width="25.40" height="25.40" fill="#00b0ff"/><rect x="350.00" y="75.00" width="25.40" height="25.40" fill="#d8ff28"/><rect x="375.00" y="75.00" width="25.40" height="25.40" fill="#d8ff28"/><rect x="400.00" y="75.00" width="25.40" height="25.40" fill="#78ff90"/><rect x="425.00" y="75.00" width="25.40" height="25.40" fill="#78ff90"/><rect x="450.00" y="75.00" width="25.40" height="25.40" fill="#78ff90"/><rect x="475.00" y="75.00" width="25.40" height="25.40" fill="#ff8000"/><rect x="500.00" y="75.00" width="25.40" height="25.40" fill="#ff8000"/><rect x="525.00" y="75.00" width="25.40" height="25.40" fill="#ff8000"/><rect x="550.00" y="75.00" width="25.40" height="25.40" fill="#10e8f0"/><rect x="575.00" y="75.00" width="25.40" height="25.40" fill="#78ff90"/><rect x="600.00" y="75.00" width="25.40" height="25.40" fill="#78ff90"/><rect x="625.00" y="75.00" width="25.40" height="25.40" fill="#78ff90"/><rect x="650.00" y="75.00" width="25.40" height="25.40" fill="#a8ff58"/><rect x="675.00" y="75.00" width="25.40" height="25.40" fill="#a8ff58"/><rect x="700.00" y="75.00" width="25.40" height="25.40" fill="#a8ff58"/><rect x="725.00" y="75.00" width="25.40" height="25.40" fill="#a8ff58"/><rect x="750.00" y="75.00" width="25.40" height="25.40" fill="#78ff90"/><rect x="775.00" y="75.00" width="85.40" height="25.40" fill="#a8ff58"/><rect x="-60.00" y="100.00" width="85.40" height="25.40" fill="#a8ff58"/><rect x="25.00" y="100.00" width="25.40" height="25.40" fill="#a8ff58"/><rect x="50.00" y="100.00" width="25.40" height="25.40" fill="#a8ff58"/><rect x="75.00" y="100.00" width="25.40" height="25.40" fill="#a8ff58"/><rect x="100.00" y="100.00" width="25.40" height="25.40" fill="#a8ff58"/><rect x="125.00" y="100.00" width="25.40" height="25.40" fill="#a8ff58"/><rect x="150.00" y="100.00" width="25.40" height="25.40" fill="#a8ff58"/><rect x="175.00" y="100.00" width="25.40" height="25.40" fill="#a8ff58"/><rect x="200.00" y="100.00" width="25.40" height="25.40" fill="#a8ff58"/><rect x="225.00" y="100.00" width="25.40" height="25.40" fill="#ff2000"/><rect x="250.00" y="100.00" width="25.40" height="25.40" fill="#a8ff58"/><rect x="275.00" y="100.00" width="25.40" height="25.40" fill="#a8ff58"/><rect x="300.00" y="100.00" width="25.40" height="25.40" fill="#10e8f0"/><rect x="325.00" y="100.00" width="25.40" height="25.40" fill="#10e8f0"/><rect x="350.00" y="100.00" width="25.40" height="25.40" fill="#ffff00"/><rect x="375.00" y="100.00" width="25.40" height="25.40" fill="#ffff00"/><rect x="400.00" y="100.00" width="25.40" height="25.40" fill="#d8ff28"/><rect x="425.00" y="100.00" width="25.40" height="25.40" fill="#78ff90"/><rect x="450.00" y="100.00" width="25.40" height="25.40" fill="#78ff90"/><rect x="475.00" y="100.00" width="25.40" height="25.40" fill="#d8ff28"/><rect x="500.00" y="100.00" width="25.40" height="25.40" fill="#ffc000"/><rect x="525.00" y="100.00" width="25.40" height="25.40" fill="#d8ff28"/><rect x="550.00" y="100.00" width="25.40" height="25.40" fill="#ff2000"/><rect x="575.00" y="100.00" width="25.40" height="25.40" fill="#78ff90"/><rect x="600.00" y="100.00" width="25.40" height="25.40" fill="#78ff90"/><rect x="625.00" y="100.00" width="25.40" height="25.40" fill="#78ff90"/><rect x="650.00" y="100.00" width="25.40" height="25.40" fill="#78ff90"/><rect x="675.00" y="100.00" width="25.40" height="25.40" fill="#78ff90"/><rect x="700.00" y="100.00" width="25.40" height="25.40" fill="#78ff90"/><rect x="725.00" y="100.00" width="25.40" height="25.40" fill="#78ff90"/><rect x="750.00" y="100.00" width="25.40" height="25.40" fill="#78ff90"/><rect x="775.00" y="100.00" width="85.40" height="25.40" fill="#78ff90"/><rect x="-60.00" y="125.00" width="85.40" height="25.40" fill="#a8ff58"/><rect x="25.00" y="125.00" width="25.40" height="25.40" fill="#a8ff58"/><rect x="50.00" y="125.00" width="25.40" height="25.40" fill="#a8ff58"/><rect x="75.00" y="125.00" width="25.40" height="25.40" fill="#a8ff58"/><rect x="100.00" y="125.00" width="25.40" height="25.40" fill="#a8ff58"/><rect x="125.00" y="125.00" width="25.40" height="25.40" fill="#a8ff58"/><rect x="150.00" y="125.00" width="25.40" height="25.40" fill="#a8ff58"/><rect x="175.00" y="125.00" width="25.40" height="25.40" fill="#a8ff58"/><rect x="200.00" y="125.00" width="25.40" height="25.40" fill="#ff8000"/><rect x="225.00" y="125.00" width="25.40" height="25.40" fill="#ff8000"/><rect x="250.00" y="125.00" width="25.40" height="25.40" fill="#78ff90"/><rect x="275.00" y="125.00" width="25.40" height="25.40" fill="#a8ff58"/><rect x="300.00" y="125.00" width="25.40" height="25.40" fill="#78ff90"/><rect x="325.00" y="125.00" width="25.40" height="25.40" fill="#10e8f0"/><rect x="350.00" y="125.00" width="25.40" height="25.40" fill="#d8ff28"/><rect x="375.00" y="125.00" width="25.40" height="25.40" fill="#d8ff28"/><rect x="400.00" y="125.00" width="25.40" height="25.40" fill="#d8ff28"/><rect x="425.00" y="125.00" width="25.40" height="25.40" fill="#d8ff28"/><rect x="450.00" y="125.00" width="25.40" height="25.40" fill="#78ff90"/><rect x="475.00" y="125.00" width="25.40" height="25.40" fill="#d8ff28"/><rect x="500.00" y="125.00" width="25.40" height="25.40" fill="#d8ff28"/><rect x="525.00" y="125.00" width="25.40" height="25.40" fill="#d8ff28"/><rect x="550.00" y="125.00" width="25.40" height="25.40" fill="#ff2000"/><rect x="575.00" y="125.00" width="25.40" height="25.40" fill="#ff2000"/><rect x="600.00" y="125.00" width="25.40" height="25.40" fill="#78ff90"/><rect x="625.00" y="125.00" width="25.40" height="25.40" fill="#10e8f0"/><rect x="650.00" y="125.00" width="25.40" height="25.40" fill="#78ff90"/><rect x="675.00" y="125.00" width="25.40" height="25.40" fill="#78ff90"/><rect x="700.00" y="125.00" width="25.40" height="25.40" fill="#78ff90"/><rect x="725.00" y="125.00" width="25.40" height="25.40" fill="#78ff90"/><rect x="750.00" y="125.00" width="25.40" height="25.40" fill="#10e8f0"/><rect x="775.00" y="125.00" width="85.40" height="25.40" fill="#78ff90"/><rect x="-60.00" y="150.00" width="85.40" height="25.40" fill="#78ff90"/><rect x="25.00" y="150.00" width="25.40" height="25.40" fill="#78ff90"/><rect x="50.00" y="150.00" width="25.40" height="25.40" fill="#78ff90"/><rect x="75.00" y="150.00" width="25.40" height="25.40" fill="#78ff90"/><rect x="100.00" y="150.00" width="25.40" height="25.40" fill="#78ff90"/><rect x="125.00" y="150.00" width="25.40" height="25.40" fill="#78ff90"/><rect x="150.00" y="150.00" width="25.40" height="25.40" fill="#78ff90"/><rect x="175.00" y="150.00" width="25.40" height="25.40" fill="#78ff90"/><rect x="200.00" y="150.00" width="25.40" height="25.40" fill="#a8ff58"/><rect x="225.00" y="150.00" width="25.40" height="25.40" fill="#d8ff28"/><rect x="250.00" y="150.00" width="25.40" height="25.40" fill="#ff8000"/><rect x="275.00" y="150.00" width="25.40" height="25.40" fill="#0030ff"/><rect x="300.00" y="150.00" width="25.40" height="25.40" fill="#d8ff28"/><rect x="325.00" y="150.00" width="25.40" height="25.40" fill="#d8ff28"/><rect x="350.00" y="150.00" width="25.40" height="25.40" fill="#ffc000"/><rect x="375.00" y="150.00" width="25.40" height="25.40" fill="#a8ff58"/><rect x="400.00" y="150.00" width="25.40" height="25.40" fill="#78ff90"/><rect x="425.00" y="150.00" width="25.40" height="25.40" fill="#d8ff28"/><rect x="450.00" y="150.00" width="25.40" height="25.40" fill="#d8ff28"/><rect x="475.00" y="150.00" width="25.40" height="25.40" fill="#d8ff28"/><rect x="500.00" y="150.00" width="25.40" height="25.40" fill="#d8ff28"/><rect x="525.00" y="150.00" width="25.40" height="25.40" fill="#d8ff28"/><rect x="550.00" y="150.00" width="25.40" height="25.40" fill="#10e8f0"/><rect x="575.00" y="150.00" width="25.40" height="25.40" fill="#ff2000"/><rect x="600.00" y="150.00" width="25.40" height="25.40" fill="#d8ff28"/><rect x="625.00" y="150.00" width="25.40" height="25.40" fill="#ffc000"/><rect x="650.00" y="150.00" width="25.40" height="25.40" fill="#a8ff58"/><rect x="675.00" y="150.00" width="25.40" height="25.40" fill="#78ff90"/><rect x="700.00" y="150.00" width="25.40" height="25.40" fill="#78ff90"/><rect x="725.00" y="150.00" width="25.40" height="25.40" fill="#78ff90"/><rect x="750.00" y="150.00" width="25.40" height="25.40" fill="#10e8f0"/><rect x="775.00" y="150.00" width="85.40" height="25.40" fill="#78ff90"/><rect x="-60.00" y="175.00" width="85.40" height="25.40" fill="#78ff90"/><rect x="25.00" y="175.00" width="25.40" height="25.40" fill="#78ff90"/><rect x="50.00" y="175.00" width="25.40" height="25.40" fill="#78ff90"/><rect x="75.00" y="175.00" width="25.40" height="25.40" fill="#78ff90"/><rect x="100.00" y="175.00" width="25.40" height="25.40" fill="#78ff90"/><rect x="125.00" y="175.00" width="25.40" height="25.40" fill="#78ff90"/><rect x="150.00" y="175.00" width="25.40" height="25.40" fill="#78ff90"/><rect x="175.00" y="175.00" width="25.40" height="25.40" fill="#78ff90"/><rect x="200.00" y="175.00" width="25.40" height="25.40" fill="#78ff90"/><rect x="225.00" y="175.00" width="25.40" height="25.40" fill="#d8ff28"/><rect x="250.00" y="175.00" width="25.40" height="25.40" fill="#d8ff28"/><rect x="275.00" y="175.00" width="25.40" height="25.40" fill="#10e8f0"/><rect x="300.00" y="175.00" width="25.40" height="25.40" fill="#d8ff28"/><rect x="325.00" y="175.00" width="25.40" height="25.40" fill="#78ff90"/><rect x="350.00" y="175.00" width="25.40" height="25.40" fill="#10e8f0"/><rect x="375.00" y="175.00" width="25.40" height="25.40" fill="#d8ff28"/><rect x="400.00" y="175.00" width="25.40" height="25.40" fill="#78ff90"/><rect x="425.00" y="175.00" width="25.40" height="25.40" fill="#78ff90"/><rect x="450.00" y="175.00" width="25.40" height="25.40" fill="#d8ff28"/><rect x="475.00" y="175.00" width="25.40" height="25.40" fill="#ffc000"/><rect x="500.00" y="175.00" width="25.40" height="25.40" fill="#d8ff28"/><rect x="525.00" y="175.00" width="25.40" height="25.40" fill="#d8ff28"/><rect x="550.00" y="175.00" width="25.40" height="25.40" fill="#78ff90"/><rect x="575.00" y="175.00" width="25.40" height="25.40" fill="#ff8000"/><rect x="600.00" y="175.00" width="25.40" height="25.40" fill="#ffc000"/><rect x="625.00" y="175.00" width="25.40" height="25.40" fill="#ffc000"/><rect x="650.00" y="175.00" width="25.40" height="25.40" fill="#78ff90"/><rect x="675.00" y="175.00" width="25.40" height="25.40" fill="#78ff90"/><rect x="700.00" y="175.00" width="25.40" height="25.40" fill="#10e8f0"/><rect x="725.00" y="175.00" width="25.40" height="25.40" fill="#10e8f0"/><rect x="750.00" y="175.00" width="25.40" height="25.40" fill="#00b0ff"/><rect x="775.00" y="175.00" width="85.40" height="25.40" fill="#78ff90"/><rect x="-60.00" y="200.00" width="85.40" height="25.40" fill="#d8ff28"/><rect x="25.00" y="200.00" width="25.40" height="25.40" fill="#d8ff28"/><rect x="50.00" y="200.00" width="25.40" height="25.40" fill="#d8ff28"/><rect x="75.00" y="200.00" width="25.40" height="25.40" fill="#d8ff28"/><rect x="100.00" y="200.00" width="25.40" height="25.40" fill="#d8ff28"/><rect x="125.00" y="200.00" width="25.40" height="25.40" fill="#d8ff28"/><rect x="150.00" y="200.00" width="25.40" height="25.40" fill="#d8ff28"/><rect x="175.00" y="200.00" width="25.40" height="25.40" fill="#d8ff28"/><rect x="200.00" y="200.00" width="25.40" height="25.40" fill="#d8ff28"/><rect x="225.00" y="200.00" width="25.40" height="25.40" fill="#d8ff28"/><rect x="250.00" y="200.00" width="25.40" height="25.40" fill="#a8ff58"/><rect x="275.00" y="200.00" width="25.40" height="25.40" fill="#a8ff58"/><rect x="300.00" y="200.00" width="25.40" height="25.40" fill="#78ff90"/><rect x="325.00" y="200.00" width="25.40" height="25.40" fill="#78ff90"/><rect x="350.00" y="200.00" width="25.40" height="25.40" fill="#10e8f0"/><rect x="375.00" y="200.00" width="25.40" height="25.40" fill="#78ff90"/><rect x="400.00" y="200.00" width="25.40" height="25.40" fill="#d8ff28"/><rect x="425.00" y="200.00" width="25.40" height="25.40" fill="#d8ff28"/><rect x="450.00" y="200.00" width="25.40" height="25.40" fill="#d8ff28"/><rect x="475.00" y="200.00" width="25.40" height="25.40" fill="#ffc000"/><rect x="500.00" y="200.00" width="25.40" height="25.40" fill="#d8ff28"/><rect x="525.00" y="200.00" width="25.40" height="25.40" fill="#d8ff28"/><rect x="550.00" y="200.00" width="25.40" height="25.40" fill="#ffc000"/><rect x="575.00" y="200.00" width="25.40" height="25.40" fill="#ffc000"/><rect x="600.00" y="200.00" width="25.40" height="25.40" fill="#d8ff28"/><rect x="625.00" y="200.00" width="25.40" height="25.40" fill="#d8ff28"/><rect x="650.00" y="200.00" width="25.40" height="25.40" fill="#78ff90"/><rect x="675.00" y="200.00" width="25.40" height="25.40" fill="#78ff90"/><rect x="700.00" y="200.00" width="25.40" height="25.40" fill="#78ff90"/><rect x="725.00" y="200.00" width="25.40" height="25.40" fill="#78ff90"/><rect x="750.00" y="200.00" width="25.40" height="25.40" fill="#78ff90"/><rect x="775.00" y="200.00" width="85.40" height="25.40" fill="#78ff90"/><rect x="-60.00" y="225.00" width="85.40" height="25.40" fill="#d8ff28"/><rect x="25.00" y="225.00" width="25.40" height="25.40" fill="#d8ff28"/><rect x="50.00" y="225.00" width="25.40" height="25.40" fill="#d8ff28"/><rect x="75.00" y="225.00" width="25.40" height="25.40" fill="#d8ff28"/><rect x="100.00" y="225.00" width="25.40" height="25.40" fill="#d8ff28"/><rect x="125.00" y="225.00" width="25.40" height="25.40" fill="#d8ff28"/><rect x="150.00" y="225.00" width="25.40" height="25.40" fill="#d8ff28"/><rect x="175.00" y="225.00" width="25.40" height="25.40" fill="#d8ff28"/><rect x="200.00" y="225.00" width="25.40" height="25.40" fill="#d8ff28"/><rect x="225.00" y="225.00" width="25.40" height="25.40" fill="#10e8f0"/><rect x="250.00" y="225.00" width="25.40" height="25.40" fill="#00b0ff"/><rect x="275.00" y="225.00" width="25.40" height="25.40" fill="#d8ff28"/><rect x="300.00" y="225.00" width="25.40" height="25.40" fill="#d8ff28"/><rect x="325.00" y="225.00" width="25.40" height="25.40" fill="#10e8f0"/><rect x="350.00" y="225.00" width="25.40" height="25.40" fill="#00b0ff"/><rect x="375.00" y="225.00" width="25.40" height="25.40" fill="#10e8f0"/><rect x="400.00" y="225.00" width="25.40" height="25.40" fill="#10e8f0"/><rect x="425.00" y="225.00" width="25.40" height="25.40" fill="#d8ff28"/><rect x="450.00" y="225.00" width="25.40" height="25.40" fill="#d8ff28"/><rect x="475.00" y="225.00" width="25.40" height="25.40" fill="#d8ff28"/><rect x="500.00" y="225.00" width="25.40" height="25.40" fill="#ffc000"/><rect x="525.00" y="225.00" width="25.40" height="25.40" fill="#ffc000"/><rect x="550.00" y="225.00" width="25.40" height="25.40" fill="#d8ff28"/><rect x="575.00" y="225.00" width="25.40" height="25.40" fill="#ffc000"/><rect x="600.00" y="225.00" width="25.40" height="25.40" fill="#ffc000"/><rect x="625.00" y="225.00" width="25.40" height="25.40" fill="#d8ff28"/><rect x="650.00" y="225.00" width="25.40" height="25.40" fill="#ffc000"/><rect x="675.00" y="225.00" width="25.40" height="25.40" fill="#78ff90"/><rect x="700.00" y="225.00" width="25.40" height="25.40" fill="#78ff90"/><rect x="725.00" y="225.00" width="25.40" height="25.40" fill="#10e8f0"/><rect x="750.00" y="225.00" width="25.40" height="25.40" fill="#78ff90"/><rect x="775.00" y="225.00" width="85.40" height="25.40" fill="#78ff90"/><rect x="-60.00" y="250.00" width="85.40" height="25.40" fill="#10e8f0"/><rect x="25.00" y="250.00" width="25.40" height="25.40" fill="#10e8f0"/><rect x="50.00" y="250.00" width="25.40" height="25.40" fill="#10e8f0"/><rect x="75.00" y="250.00" width="25.40" height="25.40" fill="#10e8f0"/><rect x="100.00" y="250.00" width="25.40" height="25.40" fill="#10e8f0"/><rect x="125.00" y="250.00" width="25.40" height="25.40" fill="#10e8f0"/><rect x="150.00" y="250.00" width="25.40" height="25.40" fill="#10e8f0"/><rect x="175.00" y="250.00" width="25.40" height="25.40" fill="#10e8f0"/><rect x="200.00" y="250.00" width="25.40" height="25.40" fill="#10e8f0"/><rect x="225.00" y="250.00" width="25.40" height="25.40" fill="#10e8f0"/><rect x="250.00" y="250.00" width="25.40" height="25.40" fill="#0070ff"/><rect x="275.00" y="250.00" width="25.40" height="25.40" fill="#10e8f0"/><rect x="300.00" y="250.00" width="25.40" height="25.40" fill="#78ff90"/><rect x="325.00" y="250.00" width="25.40" height="25.40" fill="#10e8f0"/><rect x="350.00" y="250.00" width="25.40" height="25.40" fill="#00b0ff"/><rect x="375.00" y="250.00" width="25.40" height="25.40" fill="#78ff90"/><rect x="400.00" y="250.00" width="25.40" height="25.40" fill="#10e8f0"/><rect x="425.00" y="250.00" width="25.40" height="25.40" fill="#78ff90"/><rect x="450.00" y="250.00" width="25.40" height="25.40" fill="#d8ff28"/><rect x="475.00" y="250.00" width="25.40" height="25.40" fill="#ffc000"/><rect x="500.00" y="250.00" width="25.40" height="25.40" fill="#ffc000"/><rect x="525.00" y="250.00" width="25.40" height="25.40" fill="#d8ff28"/><rect x="550.00" y="250.00" width="25.40" height="25.40" fill="#d8ff28"/><rect x="575.00" y="250.00" width="25.40" height="25.40" fill="#a8ff58"/><rect x="600.00" y="250.00" width="25.40" height="25.40" fill="#ffc000"/><rect x="625.00" y="250.00" width="25.40" height="25.40" fill="#d8ff28"/><rect x="650.00" y="250.00" width="25.40" height="25.40" fill="#ffc000"/><rect x="675.00" y="250.00" width="25.40" height="25.40" fill="#78ff90"/><rect x="700.00" y="250.00" width="25.40" height="25.40" fill="#10e8f0"/><rect x="725.00" y="250.00" width="25.40" height="25.40" fill="#10e8f0"/><rect x="750.00" y="250.00" width="25.40" height="25.40" fill="#00b0ff"/><rect x="775.00" y="250.00" width="85.40" height="25.40" fill="#78ff90"/><rect x="-60.00" y="275.00" width="85.40" height="25.40" fill="#10e8f0"/><rect x="25.00" y="275.00" width="25.40" height="25.40" fill="#10e8f0"/><rect x="50.00" y="275.00" width="25.40" height="25.40" fill="#10e8f0"/><rect x="75.00" y="275.00" width="25.40" height="25.40" fill="#10e8f0"/><rect x="100.00" y="275.00" width="25.40" height="25.40" fill="#10e8f0"/><rect x="125.00" y="275.00" width="25.40" height="25.40" fill="#10e8f0"/><rect x="150.00" y="275.00" width="25.40" height="25.40" fill="#10e8f0"/><rect x="175.00" y="275.00" width="25.40" height="25.40" fill="#10e8f0"/><rect x="200.00" y="275.00" width="25.40" height="25.40" fill="#10e8f0"/><rect x="225.00" y="275.00" width="25.40" height="25.40" fill="#10e8f0"/><rect x="250.00" y="275.00" width="25.40" height="25.40" fill="#0070ff"/><rect x="275.00" y="275.00" width="25.40" height="25.40" fill="#00b0ff"/><rect x="300.00" y="275.00" width="25.40" height="25.40" fill="#d8ff28"/><rect x="325.00" y="275.00" width="25.40" height="25.40" fill="#d8ff28"/><rect x="350.00" y="275.00" width="25.40" height="25.40" fill="#78ff90"/><rect x="375.00" y="275.00" width="25.40" height="25.40" fill="#10e8f0"/><rect x="400.00" y="275.00" width="25.40" height="25.40" fill="#00b0ff"/><rect x="425.00" y="275.00" width="25.40" height="25.40" fill="#00b0ff"/><rect x="450.00" y="275.00" width="25.40" height="25.40" fill="#78ff90"/><rect x="475.00" y="275.00" width="25.40" height="25.40" fill="#d8ff28"/><rect x="500.00" y="275.00" width="25.40" height="25.40" fill="#d8ff28"/><rect x="525.00" y="275.00" width="25.40" height="25.40" fill="#d8ff28"/><rect x="550.00" y="275.00" width="25.40" height="25.40" fill="#a8ff58"/><rect x="575.00" y="275.00" width="25.40" height="25.40" fill="#d8ff28"/><rect x="600.00" y="275.00" width="25.40" height="25.40" fill="#d8ff28"/><rect x="625.00" y="275.00" width="25.40" height="25.40" fill="#10e8f0"/><rect x="650.00" y="275.00" width="25.40" height="25.40" fill="#10e8f0"/><rect x="675.00" y="275.00" width="25.40" height="25.40" fill="#10e8f0"/><rect x="700.00" y="275.00" width="25.40" height="25.40" fill="#78ff90"/><rect x="725.00" y="275.00" width="25.40" height="25.40" fill="#ff8000"/><rect x="750.00" y="275.00" width="25.40" height="25.40" fill="#ffc000"/><rect x="775.00" y="275.00" width="85.40" height="25.40" fill="#78ff90"/><rect x="-60.00" y="300.00" width="85.40" height="25.40" fill="#78ff90"/><rect x="25.00" y="300.00" width="25.40" height="25.40" fill="#78ff90"/><rect x="50.00" y="300.00" width="25.40" height="25.40" fill="#78ff90"/><rect x="75.00" y="300.00" width="25.40" height="25.40" fill="#78ff90"/><rect x="100.00" y="300.00" width="25.40" height="25.40" fill="#78ff90"/><rect x="125.00" y="300.00" width="25.40" height="25.40" fill="#78ff90"/><rect x="150.00" y="300.00" width="25.40" height="25.40" fill="#78ff90"/><rect x="175.00" y="300.00" width="25.40" height="25.40" fill="#78ff90"/><rect x="200.00" y="300.00" width="25.40" height="25.40" fill="#78ff90"/><rect x="225.00" y="300.00" width="25.40" height="25.40" fill="#10e8f0"/><rect x="250.00" y="300.00" width="25.40" height="25.40" fill="#78ff90"/><rect x="275.00" y="300.00" width="25.40" height="25.40" fill="#10e8f0"/><rect x="300.00" y="300.00" width="25.40" height="25.40" fill="#d8ff28"/><rect x="325.00" y="300.00" width="25.40" height="25.40" fill="#d8ff28"/><rect x="350.00" y="300.00" width="25.40" height="25.40" fill="#d8ff28"/><rect x="375.00" y="300.00" width="25.40" height="25.40" fill="#00b0ff"/><rect x="400.00" y="300.00" width="25.40" height="25.40" fill="#00b0ff"/><rect x="425.00" y="300.00" width="25.40" height="25.40" fill="#00b0ff"/><rect x="450.00" y="300.00" width="25.40" height="25.40" fill="#78ff90"/><rect x="475.00" y="300.00" width="25.40" height="25.40" fill="#d8ff28"/><rect x="500.00" y="300.00" width="25.40" height="25.40" fill="#d8ff28"/><rect x="525.00" y="300.00" width="25.40" height="25.40" fill="#d8ff28"/><rect x="550.00" y="300.00" width="25.40" height="25.40" fill="#d8ff28"/><rect x="575.00" y="300.00" width="25.40" height="25.40" fill="#d8ff28"/><rect x="600.00" y="300.00" width="25.40" height="25.40" fill="#d8ff28"/><rect x="625.00" y="300.00" width="25.40" height="25.40" fill="#ffc000"/><rect x="650.00" y="300.00" width="25.40" height="25.40" fill="#78ff90"/><rect x="675.00" y="300.00" width="25.40" height="25.40" fill="#78ff90"/><rect x="700.00" y="300.00" width="25.40" height="25.40" fill="#d8ff28"/><rect x="725.00" y="300.00" width="25.40" height="25.40" fill="#78ff90"/><rect x="750.00" y="300.00" width="25.40" height="25.40" fill="#ffc000"/><rect x="775.00" y="300.00" width="85.40" height="25.40" fill="#78ff90"/><rect x="-60.00" y="325.00" width="85.40" height="25.40" fill="#78ff90"/><rect x="25.00" y="325.00" width="25.40" height="25.40" fill="#78ff90"/><rect x="50.00" y="325.00" width="25.40" height="25.40" fill="#78ff90"/><rect x="75.00" y="325.00" width="25.40" height="25.40" fill="#78ff90"/><rect x="100.00" y="325.00" width="25.40" height="25.40" fill="#78ff90"/><rect x="125.00" y="325.00" width="25.40" height="25.40" fill="#78ff90"/><rect x="150.00" y="325.00" width="25.40" height="25.40" fill="#78ff90"/><rect x="175.00" y="325.00" width="25.40" height="25.40" fill="#78ff90"/><rect x="200.00" y="325.00" width="25.40" height="25.40" fill="#78ff90"/><rect x="225.00" y="325.00" width="25.40" height="25.40" fill="#d8ff28"/><rect x="250.00" y="325.00" width="25.40" height="25.40" fill="#d8ff28"/><rect x="275.00" y="325.00" width="25.40" height="25.40" fill="#d8ff28"/><rect x="300.00" y="325.00" width="25.40" height="25.40" fill="#10e8f0"/><rect x="325.00" y="325.00" width="25.40" height="25.40" fill="#10e8f0"/><rect x="350.00" y="325.00" width="25.40" height="25.40" fill="#d8ff28"/><rect x="375.00" y="325.00" width="25.40" height="25.40" fill="#d8ff28"/><rect x="400.00" y="325.00" width="25.40" height="25.40" fill="#00b0ff"/><rect x="425.00" y="325.00" width="25.40" height="25.40" fill="#10e8f0"/><rect x="450.00" y="325.00" width="25.40" height="25.40" fill="#10e8f0"/><rect x="475.00" y="325.00" width="25.40" height="25.40" fill="#10e8f0"/><rect x="500.00" y="325.00" width="25.40" height="25.40" fill="#78ff90"/><rect x="525.00" y="325.00" width="25.40" height="25.40" fill="#d8ff28"/><rect x="550.00" y="325.00" width="25.40" height="25.40" fill="#d8ff28"/><rect x="575.00" y="325.00" width="25.40" height="25.40" fill="#ffc000"/><rect x="600.00" y="325.00" width="25.40" height="25.40" fill="#78ff90"/><rect x="625.00" y="325.00" width="25.40" height="25.40" fill="#10e8f0"/><rect x="650.00" y="325.00" width="25.40" height="25.40" fill="#ff8000"/><rect x="675.00" y="325.00" width="25.40" height="25.40" fill="#78ff90"/><rect x="700.00" y="325.00" width="25.40" height="25.40" fill="#78ff90"/><rect x="725.00" y="325.00" width="25.40" height="25.40" fill="#78ff90"/><rect x="750.00" y="325.00" width="25.40" height="25.40" fill="#78ff90"/><rect x="775.00" y="325.00" width="85.40" height="25.40" fill="#78ff90"/><rect x="-60.00" y="350.00" width="85.40" height="25.40" fill="#10e8f0"/><rect x="25.00" y="350.00" width="25.40" height="25.40" fill="#10e8f0"/><rect x="50.00" y="350.00" width="25.40" height="25.40" fill="#10e8f0"/><rect x="75.00" y="350.00" width="25.40" height="25.40" fill="#10e8f0"/><rect x="100.00" y="350.00" width="25.40" height="25.40" fill="#10e8f0"/><rect x="125.00" y="350.00" width="25.40" height="25.40" fill="#10e8f0"/><rect x="150.00" y="350.00" width="25.40" height="25.40" fill="#10e8f0"/><rect x="175.00" y="350.00" width="25.40" height="25.40" fill="#10e8f0"/><rect x="200.00" y="350.00" width="25.40" height="25.40" fill="#10e8f0"/><rect x="225.00" y="350.00" width="25.40" height="25.40" fill="#10e8f0"/><rect x="250.00" y="350.00" width="25.40" height="25.40" fill="#10e8f0"/><rect x="275.00" y="350.00" width="25.40" height="25.40" fill="#10e8f0"/><rect x="300.00" y="350.00" width="25.40" height="25.40" fill="#d8ff28"/><rect x="325.00" y="350.00" width="25.40" height="25.40" fill="#d8ff28"/><rect x="350.00" y="350.00" width="25.40" height="25.40" fill="#000095"/><rect x="375.00" y="350.00" width="25.40" height="25.40" fill="#0070ff"/><rect x="400.00" y="350.00" width="25.40" height="25.40" fill="#10e8f0"/><rect x="425.00" y="350.00" width="25.40" height="25.40" fill="#10e8f0"/><rect x="450.00" y="350.00" width="25.40" height="25.40" fill="#10e8f0"/><rect x="475.00" y="350.00" width="25.40" height="25.40" fill="#00b0ff"/><rect x="500.00" y="350.00" width="25.40" height="25.40" fill="#00b0ff"/><rect x="525.00" y="350.00" width="25.40" height="25.40" fill="#0030ff"/><rect x="550.00" y="350.00" width="25.40" height="25.40" fill="#0030ff"/><rect x="575.00" y="350.00" width="25.40" height="25.40" fill="#00b0ff"/><rect x="600.00" y="350.00" width="25.40" height="25.40" fill="#78ff90"/><rect x="625.00" y="350.00" width="25.40" height="25.40" fill="#78ff90"/><rect x="650.00" y="350.00" width="25.40" height="25.40" fill="#ffc000"/><rect x="675.00" y="350.00" width="25.40" height="25.40" fill="#78ff90"/><rect x="700.00" y="350.00" width="25.40" height="25.40" fill="#78ff90"/><rect x="725.00" y="350.00" width="25.40" height="25.40" fill="#78ff90"/><rect x="750.00" y="350.00" width="25.40" height="25.40" fill="#78ff90"/><rect x="775.00" y="350.00" width="85.40" height="25.40" fill="#78ff90"/><rect x="-60.00" y="375.00" width="85.40" height="25.40" fill="#00b0ff"/><rect x="25.00" y="375.00" width="25.40" height="25.40" fill="#00b0ff"/><rect x="50.00" y="375.00" width="25.40" height="25.40" fill="#00b0ff"/><rect x="75.00" y="375.00" width="25.40" height="25.40" fill="#00b0ff"/><rect x="100.00" y="375.00" width="25.40" height="25.40" fill="#00b0ff"/><rect x="125.00" y="375.00" width="25.40" height="25.40" fill="#00b0ff"/><rect x="150.00" y="375.00" width="25.40" height="25.40" fill="#00b0ff"/><rect x="175.00" y="375.00" width="25.40" height="25.40" fill="#00b0ff"/><rect x="200.00" y="375.00" width="25.40" height="25.40" fill="#00b0ff"/><rect x="225.00" y="375.00" width="25.40" height="25.40" fill="#00b0ff"/><rect x="250.00" y="375.00" width="25.40" height="25.40" fill="#00b0ff"/><rect x="275.00" y="375.00" width="25.40" height="25.40" fill="#10e8f0"/><rect x="300.00" y="375.00" width="25.40" height="25.40" fill="#d8ff28"/><rect x="325.00" y="375.00" width="25.40" height="25.40" fill="#ff8000"/><rect x="350.00" y="375.00" width="25.40" height="25.40" fill="#ff8000"/><rect x="375.00" y="375.00" width="25.40" height="25.40" fill="#ffc000"/><rect x="400.00" y="375.00" width="25.40" height="25.40" fill="#d8ff28"/><rect x="425.00" y="375.00" width="25.40" height="25.40" fill="#d8ff28"/><rect x="450.00" y="375.00" width="25.40" height="25.40" fill="#ffc000"/><rect x="475.00" y="375.00" width="25.40" height="25.40" fill="#ffc000"/><rect x="500.00" y="375.00" width="25.40" height="25.40" fill="#78ff90"/><rect x="525.00" y="375.00" width="25.40" height="25.40" fill="#78ff90"/><rect x="550.00" y="375.00" width="25.40" height="25.40" fill="#10e8f0"/><rect x="575.00" y="375.00" width="25.40" height="25.40" fill="#10e8f0"/><rect x="600.00" y="375.00" width="25.40" height="25.40" fill="#78ff90"/><rect x="625.00" y="375.00" width="25.40" height="25.40" fill="#78ff90"/><rect x="650.00" y="375.00" width="25.40" height="25.40" fill="#78ff90"/><rect x="675.00" y="375.00" width="25.40" height="25.40" fill="#10e8f0"/><rect x="700.00" y="375.00" width="25.40" height="25.40" fill="#78ff90"/><rect x="725.00" y="375.00" width="25.40" height="25.40" fill="#d8ff28"/><rect x="750.00" y="375.00" width="25.40" height="25.40" fill="#78ff90"/><rect x="775.00" y="375.00" width="85.40" height="25.40" fill="#ffc000"/><rect x="-60.00" y="400.00" width="85.40" height="25.40" fill="#78ff90"/><rect x="25.00" y="400.00" width="25.40" height="25.40" fill="#78ff90"/><rect x="50.00" y="400.00" width="25.40" height="25.40" fill="#78ff90"/><rect x="75.00" y="400.00" width="25.40" height="25.40" fill="#78ff90"/><rect x="100.00" y="400.00" width="25.40" height="25.40" fill="#78ff90"/><rect x="125.00" y="400.00" width="25.40" height="25.40" fill="#78ff90"/><rect x="150.00" y="400.00" width="25.40" height="25.40" fill="#78ff90"/><rect x="175.00" y="400.00" width="25.40" height="25.40" fill="#78ff90"/><rect x="200.00" y="400.00" width="25.40" height="25.40" fill="#78ff90"/><rect x="225.00" y="400.00" width="25.40" height="25.40" fill="#78ff90"/><rect x="250.00" y="400.00" width="25.40" height="25.40" fill="#00b0ff"/><rect x="275.00" y="400.00" width="25.40" height="25.40" fill="#d8ff28"/><rect x="300.00" y="400.00" width="25.40" height="25.40" fill="#d8ff28"/><rect x="325.00" y="400.00" width="25.40" height="25.40" fill="#ff8000"/><rect x="350.00" y="400.00" width="25.40" height="25.40" fill="#10e8f0"/><rect x="375.00" y="400.00" width="25.40" height="25.40" fill="#10e8f0"/><rect x="400.00" y="400.00" width="25.40" height="25.40" fill="#00b0ff"/><rect x="425.00" y="400.00" width="25.40" height="25.40" fill="#78ff90"/><rect x="450.00" y="400.00" width="25.40" height="25.40" fill="#10e8f0"/><rect x="475.00" y="400.00" width="25.40" height="25.40" fill="#10e8f0"/><rect x="500.00" y="400.00" width="25.40" height="25.40" fill="#10e8f0"/><rect x="525.00" y="400.00" width="25.40" height="25.40" fill="#10e8f0"/><rect x="550.00" y="400.00" width="25.40" height="25.40" fill="#10e8f0"/><rect x="575.00" y="400.00" width="25.40" height="25.40" fill="#10e8f0"/><rect x="600.00" y="400.00" width="25.40" height="25.40" fill="#10e8f0"/><rect x="625.00" y="400.00" width="25.40" height="25.40" fill="#00b0ff"/><rect x="650.00" y="400.00" width="25.40" height="25.40" fill="#00b0ff"/><rect x="675.00" y="400.00" width="25.40" height="25.40" fill="#10e8f0"/><rect x="700.00" y="400.00" width="25.40" height="25.40" fill="#78ff90"/><rect x="725.00" y="400.00" width="25.40" height="25.40" fill="#10e8f0"/><rect x="750.00" y="400.00" width="25.40" height="25.40" fill="#78ff90"/><rect x="775.00" y="400.00" width="85.40" height="25.40" fill="#78ff90"/><rect x="-60.00" y="425.00" width="85.40" height="25.40" fill="#78ff90"/><rect x="25.00" y="425.00" width="25.40" height="25.40" fill="#78ff90"/><rect x="50.00" y="425.00" width="25.40" height="25.40" fill="#78ff90"/><rect x="75.00" y="425.00" width="25.40" height="25.40" fill="#78ff90"/><rect x="100.00" y="425.00" width="25.40" height="25.40" fill="#78ff90"/><rect x="125.00" y="425.00" width="25.40" height="25.40" fill="#78ff90"/><rect x="150.00" y="425.00" width="25.40" height="25.40" fill="#78ff90"/><rect x="175.00" y="425.00" width="25.40" height="25.40" fill="#78ff90"/><rect x="200.00" y="425.00" width="25.40" height="25.40" fill="#78ff90"/><rect x="225.00" y="425.00" width="25.40" height="25.40" fill="#78ff90"/><rect x="250.00" y="425.00" width="25.40" height="25.40" fill="#d8ff28"/><rect x="275.00" y="425.00" width="25.40" height="25.40" fill="#d8ff28"/><rect x="300.00" y="425.00" width="25.40" height="25.40" fill="#d8ff28"/><rect x="325.00" y="425.00" width="25.40" height="25.40" fill="#ffc000"/><rect x="350.00" y="425.00" width="25.40" height="25.40" fill="#10e8f0"/><rect x="375.00" y="425.00" width="25.40" height="25.40" fill="#000095"/><rect x="400.00" y="425.00" width="25.40" height="25.40" fill="#0070ff"/><rect x="425.00" y="425.00" width="25.40" height="25.40" fill="#10e8f0"/><rect x="450.00" y="425.00" width="25.40" height="25.40" fill="#10e8f0"/><rect x="475.00" y="425.00" width="25.40" height="25.40" fill="#78ff90"/><rect x="500.00" y="425.00" width="25.40" height="25.40" fill="#10e8f0"/><rect x="525.00" y="425.00" width="25.40" height="25.40" fill="#10e8f0"/><rect x="550.00" y="425.00" width="25.40" height="25.40" fill="#00b0ff"/><rect x="575.00" y="425.00" width="25.40" height="25.40" fill="#00b0ff"/><rect x="600.00" y="425.00" width="25.40" height="25.40" fill="#00b0ff"/><rect x="625.00" y="425.00" width="25.40" height="25.40" fill="#0070ff"/><rect x="650.00" y="425.00" width="25.40" height="25.40" fill="#00b0ff"/><rect x="675.00" y="425.00" width="25.40" height="25.40" fill="#10e8f0"/><rect x="700.00" y="425.00" width="25.40" height="25.40" fill="#78ff90"/><rect x="725.00" y="425.00" width="25.40" height="25.40" fill="#78ff90"/><rect x="750.00" y="425.00" width="25.40" height="25.40" fill="#78ff90"/><rect x="775.00" y="425.00" width="85.40" height="25.40" fill="#78ff90"/><rect x="-60.00" y="450.00" width="85.40" height="25.40" fill="#10e8f0"/><rect x="25.00" y="450.00" width="25.40" height="25.40" fill="#10e8f0"/><rect x="50.00" y="450.00" width="25.40" height="25.40" fill="#10e8f0"/><rect x="75.00" y="450.00" width="25.40" height="25.40" fill="#10e8f0"/><rect x="100.00" y="450.00" width="25.40" height="25.40" fill="#10e8f0"/><rect x="125.00" y="450.00" width="25.40" height="25.40" fill="#10e8f0"/><rect x="150.00" y="450.00" width="25.40" height="25.40" fill="#10e8f0"/><rect x="175.00" y="450.00" width="25.40" height="25.40" fill="#10e8f0"/><rect x="200.00" y="450.00" width="25.40" height="25.40" fill="#10e8f0"/><rect x="225.00" y="450.00" width="25.40" height="25.40" fill="#10e8f0"/><rect x="250.00" y="450.00" width="25.40" height="25.40" fill="#78ff90"/><rect x="275.00" y="450.00" width="25.40" height="25.40" fill="#d8ff28"/><rect x="300.00" y="450.00" width="25.40" height="25.40" fill="#d8ff28"/><rect x="325.00" y="450.00" width="25.40" height="25.40" fill="#d8ff28"/><rect x="350.00" y="450.00" width="25.40" height="25.40" fill="#78ff90"/><rect x="375.00" y="450.00" width="25.40" height="25.40" fill="#10e8f0"/><rect x="400.00" y="450.00" width="25.40" height="25.40" fill="#0070ff"/><rect x="425.00" y="450.00" width="25.40" height="25.40" fill="#0030ff"/><rect x="450.00" y="450.00" width="25.40" height="25.40" fill="#10e8f0"/><rect x="475.00" y="450.00" width="25.40" height="25.40" fill="#78ff90"/><rect x="500.00" y="450.00" width="25.40" height="25.40" fill="#0070ff"/><rect x="525.00" y="450.00" width="25.40" height="25.40" fill="#00b0ff"/><rect x="550.00" y="450.00" width="25.40" height="25.40" fill="#00b0ff"/><rect x="575.00" y="450.00" width="25.40" height="25.40" fill="#00b0ff"/><rect x="600.00" y="450.00" width="25.40" height="25.40" fill="#0070ff"/><rect x="625.00" y="450.00" width="25.40" height="25.40" fill="#00b0ff"/><rect x="650.00" y="450.00" width="25.40" height="25.40" fill="#10e8f0"/><rect x="675.00" y="450.00" width="25.40" height="25.40" fill="#78ff90"/><rect x="700.00" y="450.00" width="25.40" height="25.40" fill="#78ff90"/><rect x="725.00" y="450.00" width="25.40" height="25.40" fill="#78ff90"/><rect x="750.00" y="450.00" width="25.40" height="25.40" fill="#78ff90"/><rect x="775.00" y="450.00" width="85.40" height="25.40" fill="#78ff90"/><rect x="-60.00" y="475.00" width="85.40" height="25.40" fill="#10e8f0"/><rect x="25.00" y="475.00" width="25.40" height="25.40" fill="#10e8f0"/><rect x="50.00" y="475.00" width="25.40" height="25.40" fill="#10e8f0"/><rect x="75.00" y="475.00" width="25.40" height="25.40" fill="#10e8f0"/><rect x="100.00" y="475.00" width="25.40" height="25.40" fill="#10e8f0"/><rect x="125.00" y="475.00" width="25.40" height="25.40" fill="#10e8f0"/><rect x="150.00" y="475.00" width="25.40" height="25.40" fill="#10e8f0"/><rect x="175.00" y="475.00" width="25.40" height="25.40" fill="#10e8f0"/><rect x="200.00" y="475.00" width="25.40" height="25.40" fill="#78ff90"/><rect x="225.00" y="475.00" width="25.40" height="25.40" fill="#78ff90"/><rect x="250.00" y="475.00" width="25.40" height="25.40" fill="#ffc000"/><rect x="275.00" y="475.00" width="25.40" height="25.40" fill="#ff8000"/><rect x="300.00" y="475.00" width="25.40" height="25.40" fill="#0030ff"/><rect x="325.00" y="475.00" width="25.40" height="25.40" fill="#0070ff"/><rect x="350.00" y="475.00" width="25.40" height="25.40" fill="#000095"/><rect x="375.00" y="475.00" width="25.40" height="25.40" fill="#00b0ff"/><rect x="400.00" y="475.00" width="25.40" height="25.40" fill="#0070ff"/><rect x="425.00" y="475.00" width="25.40" height="25.40" fill="#000095"/><rect x="450.00" y="475.00" width="25.40" height="25.40" fill="#00b0ff"/><rect x="475.00" y="475.00" width="25.40" height="25.40" fill="#10e8f0"/><rect x="500.00" y="475.00" width="25.40" height="25.40" fill="#000095"/><rect x="525.00" y="475.00" width="25.40" height="25.40" fill="#000095"/><rect x="550.00" y="475.00" width="25.40" height="25.40" fill="#0070ff"/><rect x="575.00" y="475.00" width="25.40" height="25.40" fill="#0030ff"/><rect x="600.00" y="475.00" width="25.40" height="25.40" fill="#0070ff"/><rect x="625.00" y="475.00" width="25.40" height="25.40" fill="#10e8f0"/><rect x="650.00" y="475.00" width="25.40" height="25.40" fill="#78ff90"/><rect x="675.00" y="475.00" width="25.40" height="25.40" fill="#78ff90"/><rect x="700.00" y="475.00" width="25.40" height="25.40" fill="#78ff90"/><rect x="725.00" y="475.00" width="25.40" height="25.40" fill="#78ff90"/><rect x="750.00" y="475.00" width="25.40" height="25.40" fill="#78ff90"/><rect x="775.00" y="475.00" width="85.40" height="25.40" fill="#78ff90"/><rect x="-60.00" y="500.00" width="85.40" height="25.40" fill="#10e8f0"/><rect x="25.00" y="500.00" width="25.40" height="25.40" fill="#10e8f0"/><rect x="50.00" y="500.00" width="25.40" height="25.40" fill="#10e8f0"/><rect x="75.00" y="500.00" width="25.40" height="25.40" fill="#10e8f0"/><rect x="100.00" y="500.00" width="25.40" height="25.40" fill="#10e8f0"/><rect x="125.00" y="500.00" width="25.40" height="25.40" fill="#10e8f0"/><rect x="150.00" y="500.00" width="25.40" height="25.40" fill="#10e8f0"/><rect x="175.00" y="500.00" width="25.40" height="25.40" fill="#10e8f0"/><rect x="200.00" y="500.00" width="25.40" height="25.40" fill="#10e8f0"/><rect x="225.00" y="500.00" width="25.40" height="25.40" fill="#ffc000"/><rect x="250.00" y="500.00" width="25.40" height="25.40" fill="#ff2000"/><rect x="275.00" y="500.00" width="25.40" height="25.40" fill="#ff2000"/><rect x="300.00" y="500.00" width="25.40" height="25.40" fill="#000095"/><rect x="325.00" y="500.00" width="25.40" height="25.40" fill="#0030ff"/><rect x="350.00" y="500.00" width="25.40" height="25.40" fill="#000095"/><rect x="375.00" y="500.00" width="25.40" height="25.40" fill="#0070ff"/><rect x="400.00" y="500.00" width="25.40" height="25.40" fill="#0070ff"/><rect x="425.00" y="500.00" width="25.40" height="25.40" fill="#00b0ff"/><rect x="450.00" y="500.00" width="25.40" height="25.40" fill="#0030ff"/><rect x="475.00" y="500.00" width="25.40" height="25.40" fill="#0030ff"/><rect x="500.00" y="500.00" width="25.40" height="25.40" fill="#000095"/><rect x="525.00" y="500.00" width="25.40" height="25.40" fill="#0030ff"/><rect x="550.00" y="500.00" width="25.40" height="25.40" fill="#00b0ff"/><rect x="575.00" y="500.00" width="25.40" height="25.40" fill="#10e8f0"/><rect x="600.00" y="500.00" width="25.40" height="25.40" fill="#10e8f0"/><rect x="625.00" y="500.00" width="25.40" height="25.40" fill="#10e8f0"/><rect x="650.00" y="500.00" width="25.40" height="25.40" fill="#78ff90"/><rect x="675.00" y="500.00" width="25.40" height="25.40" fill="#78ff90"/><rect x="700.00" y="500.00" width="25.40" height="25.40" fill="#78ff90"/><rect x="725.00" y="500.00" width="25.40" height="25.40" fill="#78ff90"/><rect x="750.00" y="500.00" width="25.40" height="25.40" fill="#78ff90"/><rect x="775.00" y="500.00" width="85.40" height="25.40" fill="#78ff90"/><rect x="-60.00" y="525.00" width="85.40" height="25.40" fill="#10e8f0"/><rect x="25.00" y="525.00" width="25.40" height="25.40" fill="#10e8f0"/><rect x="50.00" y="525.00" width="25.40" height="25.40" fill="#10e8f0"/><rect x="75.00" y="525.00" width="25.40" height="25.40" fill="#10e8f0"/><rect x="100.00" y="525.00" width="25.40" height="25.40" fill="#10e8f0"/><rect x="125.00" y="525.00" width="25.40" height="25.40" fill="#10e8f0"/><rect x="150.00" y="525.00" width="25.40" height="25.40" fill="#10e8f0"/><rect x="175.00" y="525.00" width="25.40" height="25.40" fill="#10e8f0"/><rect x="200.00" y="525.00" width="25.40" height="25.40" fill="#000095"/><rect x="225.00" y="525.00" width="25.40" height="25.40" fill="#0030ff"/><rect x="250.00" y="525.00" width="25.40" height="25.40" fill="#a00000"/><rect x="275.00" y="525.00" width="25.40" height="25.40" fill="#ff2000"/><rect x="300.00" y="525.00" width="25.40" height="25.40" fill="#000095"/><rect x="325.00" y="525.00" width="25.40" height="25.40" fill="#0030ff"/><rect x="350.00" y="525.00" width="25.40" height="25.40" fill="#000095"/><rect x="375.00" y="525.00" width="25.40" height="25.40" fill="#0070ff"/><rect x="400.00" y="525.00" width="25.40" height="25.40" fill="#00b0ff"/><rect x="425.00" y="525.00" width="25.40" height="25.40" fill="#0070ff"/><rect x="450.00" y="525.00" width="25.40" height="25.40" fill="#0070ff"/><rect x="475.00" y="525.00" width="25.40" height="25.40" fill="#0030ff"/><rect x="500.00" y="525.00" width="25.40" height="25.40" fill="#000095"/><rect x="525.00" y="525.00" width="25.40" height="25.40" fill="#000095"/><rect x="550.00" y="525.00" width="25.40" height="25.40" fill="#00b0ff"/><rect x="575.00" y="525.00" width="25.40" height="25.40" fill="#10e8f0"/><rect x="600.00" y="525.00" width="25.40" height="25.40" fill="#10e8f0"/><rect x="625.00" y="525.00" width="25.40" height="25.40" fill="#78ff90"/><rect x="650.00" y="525.00" width="25.40" height="25.40" fill="#78ff90"/><rect x="675.00" y="525.00" width="25.40" height="25.40" fill="#78ff90"/><rect x="700.00" y="525.00" width="25.40" height="25.40" fill="#78ff90"/><rect x="725.00" y="525.00" width="25.40" height="25.40" fill="#78ff90"/><rect x="750.00" y="525.00" width="25.40" height="25.40" fill="#78ff90"/><rect x="775.00" y="525.00" width="85.40" height="25.40" fill="#78ff90"/><rect x="-60.00" y="550.00" width="85.40" height="25.40" fill="#10e8f0"/><rect x="25.00" y="550.00" width="25.40" height="25.40" fill="#10e8f0"/><rect x="50.00" y="550.00" width="25.40" height="25.40" fill="#10e8f0"/><rect x="75.00" y="550.00" width="25.40" height="25.40" fill="#10e8f0"/><rect x="100.00" y="550.00" width="25.40" height="25.40" fill="#10e8f0"/><rect x="125.00" y="550.00" width="25.40" height="25.40" fill="#10e8f0"/><rect x="150.00" y="550.00" width="25.40" height="25.40" fill="#10e8f0"/><rect x="175.00" y="550.00" width="25.40" height="25.40" fill="#10e8f0"/><rect x="200.00" y="550.00" width="25.40" height="25.40" fill="#0030ff"/><rect x="225.00" y="550.00" width="25.40" height="25.40" fill="#ff2000"/><rect x="250.00" y="550.00" width="25.40" height="25.40" fill="#ff2000"/><rect x="275.00" y="550.00" width="25.40" height="25.40" fill="#0030ff"/><rect x="300.00" y="550.00" width="25.40" height="25.40" fill="#000095"/><rect x="325.00" y="550.00" width="25.40" height="25.40" fill="#000095"/><rect x="350.00" y="550.00" width="25.40" height="25.40" fill="#00b0ff"/><rect x="375.00" y="550.00" width="25.40" height="25.40" fill="#00b0ff"/><rect x="400.00" y="550.00" width="25.40" height="25.40" fill="#0070ff"/><rect x="425.00" y="550.00" width="25.40" height="25.40" fill="#0030ff"/><rect x="450.00" y="550.00" width="25.40" height="25.40" fill="#0030ff"/><rect x="475.00" y="550.00" width="25.40" height="25.40" fill="#000095"/><rect x="500.00" y="550.00" width="25.40" height="25.40" fill="#000095"/><rect x="525.00" y="550.00" width="25.40" height="25.40" fill="#0030ff"/><rect x="550.00" y="550.00" width="25.40" height="25.40" fill="#00b0ff"/><rect x="575.00" y="550.00" width="25.40" height="25.40" fill="#10e8f0"/><rect x="600.00" y="550.00" width="25.40" height="25.40" fill="#10e8f0"/><rect x="625.00" y="550.00" width="25.40" height="25.40" fill="#78ff90"/><rect x="650.00" y="550.00" width="25.40" height="25.40" fill="#78ff90"/><rect x="675.00" y="550.00" width="25.40" height="25.40" fill="#d8ff28"/><rect x="700.00" y="550.00" width="25.40" height="25.40" fill="#78ff90"/><rect x="725.00" y="550.00" width="25.40" height="25.40" fill="#78ff90"/><rect x="750.00" y="550.00" width="25.40" height="25.40" fill="#78ff90"/><rect x="775.00" y="550.00" width="85.40" height="25.40" fill="#78ff90"/><rect x="-60.00" y="575.00" width="85.40" height="85.40" fill="#10e8f0"/><rect x="25.00" y="575.00" width="25.40" height="85.40" fill="#10e8f0"/><rect x="50.00" y="575.00" width="25.40" height="85.40" fill="#10e8f0"/><rect x="75.00" y="575.00" width="25.40" height="85.40" fill="#10e8f0"/><rect x="100.00" y="575.00" width="25.40" height="85.40" fill="#10e8f0"/><rect x="125.00" y="575.00" width="25.40" height="85.40" fill="#10e8f0"/><rect x="150.00" y="575.00" width="25.40" height="85.40" fill="#10e8f0"/><rect x="175.00" y="575.00" width="25.40" height="85.40" fill="#10e8f0"/><rect x="200.00" y="575.00" width="25.40" height="85.40" fill="#ffc000"/><rect x="225.00" y="575.00" width="25.40" height="85.40" fill="#ffc000"/><rect x="250.00" y="575.00" width="25.40" height="85.40" fill="#10e8f0"/><rect x="275.00" y="575.00" width="25.40" height="85.40" fill="#0030ff"/><rect x="300.00" y="575.00" width="25.40" height="85.40" fill="#000095"/><rect x="325.00" y="575.00" width="25.40" height="85.40" fill="#0030ff"/><rect x="350.00" y="575.00" width="25.40" height="85.40" fill="#00b0ff"/><rect x="375.00" y="575.00" width="25.40" height="85.40" fill="#00b0ff"/><rect x="400.00" y="575.00" width="25.40" height="85.40" fill="#0030ff"/><rect x="425.00" y="575.00" width="25.40" height="85.40" fill="#0070ff"/><rect x="450.00" y="575.00" width="25.40" height="85.40" fill="#000095"/><rect x="475.00" y="575.00" width="25.40" height="85.40" fill="#000095"/><rect x="500.00" y="575.00" width="25.40" height="85.40" fill="#000095"/><rect x="525.00" y="575.00" width="25.40" height="85.40" fill="#0030ff"/><rect x="550.00" y="575.00" width="25.40" height="85.40" fill="#00b0ff"/><rect x="575.00" y="575.00" width="25.40" height="85.40" fill="#00b0ff"/><rect x="600.00" y="575.00" width="25.40" height="85.40" fill="#10e8f0"/><rect x="625.00" y="575.00" width="25.40" height="85.40" fill="#78ff90"/><rect x="650.00" y="575.00" width="25.40" height="85.40" fill="#d8ff28"/><rect x="675.00" y="575.00" width="25.40" height="85.40" fill="#78ff90"/><rect x="700.00" y="575.00" width="25.40" height="85.40" fill="#78ff90"/><rect x="725.00" y="575.00" width="25.40" height="85.40" fill="#78ff90"/><rect x="750.00" y="575.00" width="25.40" height="85.40" fill="#78ff90"/><rect x="775.00" y="575.00" width="85.40" height="85.40" fill="#78ff90"/></g><defs><filter id="sb" x="-50%" y="-50%" width="200%" height="200%" color-interpolation-filters="sRGB"><feGaussianBlur stdDeviation="2.5"/></filter></defs><g filter="url(#sb)"><ellipse cx="763.1" cy="300.7" rx="27.5" ry="13.9" fill="#ff3000"/><ellipse cx="766.5" cy="300.7" rx="17.2" ry="9.7" fill="#a00000"/><ellipse cx="295.9" cy="173.6" rx="12.0" ry="11.1" fill="#000095"/><ellipse cx="373.2" cy="368.1" rx="15.5" ry="12.5" fill="#000095"/><ellipse cx="555.3" cy="370.8" rx="29.2" ry="7.6" fill="#000095"/><ellipse cx="215.2" cy="538.9" rx="22.3" ry="16.7" fill="#000095"/><ellipse cx="666.9" cy="351.4" rx="15.5" ry="9.7" fill="#e01000"/></g></g><g fill="#fff"><polygon points="562.6,39.0 584.7,37.0 592.2,40.0 589.8,48.0 602.0,45.9 605.8,52.0 604.6,64.0 597.1,71.9 587.4,74.0 577.4,83.9 592.2,83.9 593.5,93.9 584.7,103.9 589.8,111.8 604.6,111.8 607.1,119.9 619.3,127.9 634.1,135.8 644.0,143.9 639.1,155.9 651.3,167.9 671.2,175.8 681.0,185.8 671.2,195.8 671.9,207.5 671.9,211.8 666.7,219.8 659.7,223.1 658.8,229.7 646.4,229.7 644.0,215.7 636.7,195.8 646.4,179.9 636.7,167.9 621.9,151.8 607.1,139.9 587.4,127.9 575.0,119.9 562.6,111.8 555.3,105.9 565.1,95.9 569.9,88.0 562.6,83.9 547.8,88.0 538.0,81.9 540.5,65.9 550.2,60.0 557.7,57.9 562.6,48.0"/><polygon points="698.0,225.9 697.5,231.2 695.9,235.8 693.5,238.8 690.7,239.9 687.9,238.8 685.5,235.8 684.0,231.2 683.4,225.9 684.0,220.5 685.5,216.0 687.9,213.0 690.7,211.9 693.5,213.0 695.9,216.0 697.5,220.5"/><polygon points="546.8,119.3 545.9,121.5 543.6,122.8 540.8,122.8 538.6,121.5 537.7,119.3 538.6,117.1 540.8,115.8 543.6,115.8 545.9,117.1"/><polygon points="696.6,4.9 695.6,7.8 692.8,9.6 689.3,9.6 686.6,7.8 685.5,4.9 686.6,2.0 689.3,0.2 692.8,0.2 695.6,2.0"/><polygon points="607.1,43.8 612.6,37.4 616.8,39.5 610.9,48.0"/><polygon points="496.9,376.5 507.2,375.1 507.2,386.1 534.2,386.1 534.2,377.9 546.2,375.1 547.8,400.0 508.8,401.2 510.5,410.8 515.6,416.3 529.2,416.3 539.4,410.8 556.3,413.6 559.8,421.8 556.3,438.4 542.7,441.2 542.7,450.8 525.8,452.2 519.0,443.9 513.8,432.8 508.8,416.3 502.0,405.3 496.9,400.0"/><polygon points="480.0,383.3 479.2,387.5 477.1,390.9 474.0,392.8 470.6,392.8 467.5,390.9 465.4,387.5 464.7,383.3 465.4,379.1 467.5,375.7 470.6,373.8 474.0,373.8 477.1,375.7 479.2,379.1"/><polygon points="654.8,355.8 653.5,359.9 649.7,363.3 644.2,365.1 638.2,365.1 632.7,363.3 629.0,359.9 627.6,355.8 629.0,351.6 632.7,348.3 638.2,346.4 644.2,346.4 649.7,348.3 653.5,351.6"/><polygon points="600.4,344.2 599.8,348.0 597.9,350.8 595.4,351.8 592.9,350.8 591.0,348.0 590.3,344.2 591.0,340.4 592.9,337.6 595.4,336.6 597.9,337.6 599.8,340.4"/><polygon points="600.4,377.8 599.5,379.9 597.0,381.5 593.6,382.0 590.2,381.5 587.8,379.9 586.8,377.8 587.8,375.7 590.2,374.1 593.6,373.6 597.0,374.1 599.5,375.7"/><polygon points="610.7,401.2 610.1,404.0 608.5,406.0 606.4,406.7 604.2,406.0 602.6,404.0 602.0,401.2 602.6,398.5 604.2,396.5 606.4,395.7 608.5,396.5 610.1,398.5"/><polygon points="379.6,432.8 378.4,436.5 375.1,439.4 370.4,441.0 365.1,441.0 360.4,439.4 357.1,436.5 355.9,432.8 357.1,429.2 360.4,426.3 365.1,424.7 370.4,424.7 375.1,426.3 378.4,429.2"/><polygon points="386.6,391.1 394.8,386.1 401.7,392.5 405.2,402.4 410.3,408.0 405.2,413.6 396.5,410.8 389.5,399.5"/><polygon points="364.4,398.5 363.3,400.9 360.3,402.4 356.7,402.4 353.7,400.9 352.6,398.5 353.7,396.1 356.7,394.6 360.3,394.6 363.3,396.1"/><polygon points="384.8,404.0 383.7,406.5 380.7,407.9 377.1,407.9 374.1,406.5 373.0,404.0 374.1,401.6 377.1,400.2 380.7,400.2 383.7,401.6"/><polygon points="389.9,450.8 388.8,454.0 385.8,456.0 382.1,456.0 379.2,454.0 378.0,450.8 379.2,447.5 382.1,445.5 385.8,445.5 388.8,447.5"/><polygon points="384.8,486.5 383.4,489.0 379.5,490.5 374.8,490.5 371.0,489.0 369.5,486.5 371.0,484.0 374.8,482.5 379.5,482.5 383.4,484.0"/><polygon points="790.8,407.4 789.7,410.7 786.6,413.4 782.1,414.9 777.1,414.9 772.7,413.4 769.6,410.7 768.5,407.4 769.6,404.1 772.7,401.5 777.1,400.0 782.1,400.0 786.6,401.5 789.7,404.1"/><polygon points="710.9,415.1 709.8,417.6 706.8,419.1 703.2,419.1 700.2,417.6 699.1,415.1 700.2,412.6 703.2,411.0 706.8,411.0 709.8,412.6"/><polygon points="789.0,441.2 787.9,443.7 784.9,445.2 781.3,445.2 778.3,443.7 777.2,441.2 778.3,438.7 781.3,437.2 784.9,437.2 787.9,438.7"/><polygon points="712.5,551.2 739.0,529.7 756.6,524.3 769.8,527.9 765.5,538.6 778.7,535.1 787.6,544.0 796.5,554.8 802.6,558.4 802.6,565.6 774.4,565.6 769.8,576.3 787.6,583.5 796.5,594.2 802.6,602.8 712.5,602.8 708.0,579.8 725.8,569.1 730.1,561.9 716.9,558.4"/><polygon points="226.1,578.8 237.9,572.6 251.9,574.6 257.1,583.1 250.1,591.5 262.3,600.3 262.3,602.8 220.5,602.8"/><polygon points="265.8,561.9 281.5,561.2 292.5,567.5 288.5,579.8 300.7,583.1 305.9,591.5 307.6,602.8 265.8,602.8 269.3,583.1"/><polygon points="319.0,583.5 327.8,583.5 327.8,602.8 319.0,602.8"/><polygon points="292.5,536.5 304.1,526.2 314.6,532.2 323.3,542.1 321.6,551.2 309.4,547.8 295.4,550.6"/><polygon points="354.3,521.6 353.2,525.9 350.1,529.4 345.7,531.3 340.7,531.3 336.2,529.4 333.1,525.9 332.0,521.6 333.1,517.4 336.2,513.9 340.7,512.0 345.7,512.0 350.1,513.9 353.2,517.4"/><polygon points="343.2,494.8 342.2,498.8 339.3,501.8 335.5,502.9 331.7,501.8 328.9,498.8 327.8,494.8 328.9,490.8 331.7,487.9 335.5,486.8 339.3,487.9 342.2,490.8"/><polygon points="385.2,486.8 383.7,488.9 379.9,490.3 375.1,490.3 371.3,488.9 369.8,486.8 371.3,484.6 375.1,483.3 379.9,483.3 383.7,484.6"/><polygon points="455.8,554.8 461.0,549.5 466.2,556.2 471.5,563.3 480.2,560.5 482.6,566.1 473.2,569.1 461.0,564.7"/><polygon points="671.9,219.5 670.5,224.7 666.7,228.9 661.2,231.2 655.1,231.2 649.5,228.9 645.7,224.7 644.4,219.5 645.7,214.3 649.5,210.1 655.1,207.8 661.2,207.8 666.7,210.1 670.5,214.3"/><polygon points="694.2,282.1 693.4,286.6 691.3,289.5 688.7,289.5 686.6,286.6 685.8,282.1 686.6,277.5 688.7,274.7 691.3,274.7 693.4,277.5"/><polygon points="710.2,277.7 709.0,280.2 705.9,281.2 702.8,280.2 701.5,277.7 702.8,275.2 705.9,274.2 709.0,275.2"/><polygon points="705.7,299.3 704.6,301.8 701.7,303.3 698.2,303.3 695.3,301.8 694.2,299.3 695.3,296.8 698.2,295.3 701.7,295.3 704.6,296.8"/><polygon points="247.8,180.0 246.7,184.4 243.7,187.7 239.7,188.9 235.6,187.7 232.6,184.4 231.5,180.0 232.6,175.6 235.6,172.3 239.7,171.1 243.7,172.3 246.7,175.6"/><polygon points="609.2,68.5 617.9,59.3 628.3,52.2 649.2,45.2 670.2,41.6 684.1,41.6 694.6,45.2 698.9,53.6 696.3,62.1 689.3,69.9 673.6,74.8 652.7,79.1 631.8,83.3 619.6,81.9 611.8,76.2"/></g><g fill="#b0b0b0" stroke="#222" stroke-width="0.8" vector-effect="non-scaling-stroke"><polygon points="-9.6,-7.1 39.7,-7.1 39.7,0.0 41.1,13.6 46.5,20.2 56.1,35.7 62.2,51.2 64.5,66.8 72.7,80.0 83.7,95.7 89.1,106.7 93.2,116.8 87.7,123.4 90.5,131.2 87.7,137.8 98.6,147.8 119.2,153.3 133.0,157.8 139.8,166.7 139.8,180.0 145.2,188.9 165.8,194.4 182.3,206.7 190.5,222.2 189.1,231.1 175.2,232.9 150.8,225.9 129.8,217.4 112.4,215.3 100.2,218.1 89.8,208.9 78.1,197.8 67.1,194.4 53.5,192.3 39.7,198.9 26.0,204.4 8.2,205.6 -9.6,203.3"/><polygon points="-9.6,206.8 8.2,207.5 26.0,208.2 39.2,203.3 53.5,196.9 67.1,197.6 78.1,203.3 80.9,216.4 91.9,220.8 105.4,219.5 116.4,221.6 127.4,234.2 133.0,245.2 149.4,258.6 165.8,269.6 179.5,283.1 187.7,296.3 191.9,307.5 182.3,314.1 165.8,316.2 149.4,320.8 133.0,329.6 116.4,338.5 105.4,342.9 97.3,349.6 94.5,360.7 80.9,366.2 69.9,363.0 45.1,363.0 39.7,367.3 46.2,369.9 64.5,369.6 67.1,382.9 75.3,391.8 105.4,378.5 127.4,369.6 141.2,374.0 160.3,396.1 171.3,402.9 187.7,405.0 209.7,411.8 198.7,418.4 187.7,425.1 176.7,434.0 165.8,442.9 152.2,447.2 144.0,453.9 146.6,460.5 154.8,453.9 176.7,447.2 187.7,438.4 195.9,438.4 199.2,440.3 196.4,453.6 199.2,475.9 191.0,489.2 174.5,484.8 152.5,484.8 144.3,486.9 152.5,495.8 166.3,498.1 169.1,509.1 163.5,520.2 152.5,531.4 136.1,530.3 152.5,533.5 158.1,542.4 163.5,557.9 152.5,569.1 141.7,571.3 136.1,582.4 127.9,586.9 119.7,582.4 114.2,586.9 103.2,589.1 100.6,600.3 98.8,608.5 -9.6,608.5"/><polygon points="116.4,218.7 127.4,216.4 144.0,220.8 160.3,232.0 182.3,243.1 189.1,248.6 184.9,254.1 176.7,253.0 154.8,243.1 135.6,232.0 119.2,223.1"/><polygon points="160.3,255.2 182.3,263.0 189.1,266.4 186.3,270.8 179.5,269.6 163.1,260.8"/><polygon points="198.7,388.2 210.0,386.1 224.0,389.6 234.2,396.7 230.9,402.9 217.0,402.4 204.8,396.7"/><polygon points="209.7,368.5 217.0,366.4 223.3,371.3 220.5,376.2 211.8,375.5"/><polygon points="183.9,392.5 190.8,391.1 193.3,398.1 189.1,402.9 183.9,399.5"/><polygon points="229.2,354.4 239.7,351.8 248.0,355.8 241.4,360.7 230.9,359.3"/><polygon points="204.8,423.5 213.5,422.8 217.9,427.8 211.8,431.7 205.7,429.2"/><polygon points="154.2,494.1 164.7,493.6 173.4,499.8 171.7,509.6 161.2,511.1 154.2,504.0"/><polygon points="115.9,563.3 124.6,562.4 129.8,571.8 130.7,585.9 122.9,594.4 115.0,583.1"/><polygon points="175.2,512.5 182.1,509.6 185.6,518.1 178.6,523.8"/><polygon points="616.8,67.9 620.5,62.1 629.2,55.9 638.8,51.5 651.3,48.0 666.7,45.9 681.0,44.9 690.9,48.0 693.9,53.6 693.3,57.9 689.3,64.2 686.0,67.9 671.2,71.9 661.4,73.8 651.3,76.0 638.8,77.6 629.2,79.9 622.2,78.4 619.3,76.0"/></g></svg>
<path d="M782.7 481v4.5 M899.2 481v4.5 M1015.6 481v4.5 M1132.0 481v4.5 M1248.5 481v4.5 M782.7 49.0h-4.5 M782.7 121.0h-4.5 M782.7 193.0h-4.5 M782.7 265.0h-4.5 M782.7 337.0h-4.5 M782.7 409.0h-4.5 M782.7 481.0h-4.5" stroke="#555" stroke-width="1" fill="none"/><path d="M782.7 49V481H1248.5" stroke="#888" stroke-width="0.8" fill="none"/><text x="782.7" y="507.0" text-anchor="middle" font-family="Liberation Sans, sans-serif" font-weight="bold" font-size="16" fill="#262626">120°E</text><text x="899.2" y="507.0" text-anchor="middle" font-family="Liberation Sans, sans-serif" font-weight="bold" font-size="16" fill="#262626">122°E</text><text x="1015.6" y="507.0" text-anchor="middle" font-family="Liberation Sans, sans-serif" font-weight="bold" font-size="16" fill="#262626">124°E</text><text x="1132.0" y="507.0" text-anchor="middle" font-family="Liberation Sans, sans-serif" font-weight="bold" font-size="16" fill="#262626">126°E</text><text x="1248.5" y="507.0" text-anchor="middle" font-family="Liberation Sans, sans-serif" font-weight="bold" font-size="16" fill="#262626">128°E</text><text x="773.2" y="54.7" text-anchor="end" font-family="Liberation Sans, sans-serif" font-weight="bold" font-size="16" fill="#262626">34°N</text><text x="773.2" y="126.7" text-anchor="end" font-family="Liberation Sans, sans-serif" font-weight="bold" font-size="16" fill="#262626">33°N</text><text x="773.2" y="198.7" text-anchor="end" font-family="Liberation Sans, sans-serif" font-weight="bold" font-size="16" fill="#262626">32°N</text><text x="773.2" y="270.7" text-anchor="end" font-family="Liberation Sans, sans-serif" font-weight="bold" font-size="16" fill="#262626">31°N</text><text x="773.2" y="342.7" text-anchor="end" font-family="Liberation Sans, sans-serif" font-weight="bold" font-size="16" fill="#262626">30°N</text><text x="773.2" y="414.7" text-anchor="end" font-family="Liberation Sans, sans-serif" font-weight="bold" font-size="16" fill="#262626">29°N</text><text x="773.2" y="486.7" text-anchor="end" font-family="Liberation Sans, sans-serif" font-weight="bold" font-size="16" fill="#262626">28°N</text><text x="1016.4" y="529.0" text-anchor="middle" font-family="Liberation Sans, sans-serif" font-weight="bold" font-size="17.5" fill="#262626">Longitude</text><text transform="translate(732.7,265.0) rotate(-90)" text-anchor="middle" font-family="Liberation Sans, sans-serif" font-weight="bold" font-size="18" fill="#262626">Latitude</text>
<rect x="1102.9" y="157.0" width="29.1" height="36.0" fill="none" stroke="#1a1a1a" stroke-width="1.4"/>
<rect x="1073.8" y="301.0" width="29.1" height="36.0" fill="none" stroke="#1a1a1a" stroke-width="1.4"/>
<text x="1132.5" y="165" font-family="Liberation Sans, sans-serif" font-weight="bold" font-size="15" fill="#111">1592</text>
<text x="1091" y="359" font-family="Liberation Sans, sans-serif" font-weight="bold" font-size="15" fill="#111">1891</text>
<defs><linearGradient id="cbB" x1="0" y1="0" x2="0" y2="1"><stop offset="-0.0000" stop-color="#800000"/><stop offset="0.1250" stop-color="#ff0000"/><stop offset="0.3750" stop-color="#ffff00"/><stop offset="0.6250" stop-color="#00ffff"/><stop offset="0.8750" stop-color="#0000ff"/><stop offset="1.0000" stop-color="#00008f"/></linearGradient></defs><rect x="1277.7" y="49.4" width="12.5" height="430.20000000000005" fill="url(#cbB)" stroke="#666" stroke-width="0.5"/>
<path d="M1290.2 49.4h-4" stroke="#555" stroke-width="1"/>
<text x="1296.5" y="54.6" font-family="Liberation Serif, serif" font-weight="bold" font-size="15" fill="#262626">1</text>
<path d="M1290.2 92.4h-4" stroke="#555" stroke-width="1"/>
<text x="1296.5" y="97.6" font-family="Liberation Serif, serif" font-weight="bold" font-size="15" fill="#262626">0.8</text>
<path d="M1290.2 135.4h-4" stroke="#555" stroke-width="1"/>
<text x="1296.5" y="140.6" font-family="Liberation Serif, serif" font-weight="bold" font-size="15" fill="#262626">0.6</text>
<path d="M1290.2 178.5h-4" stroke="#555" stroke-width="1"/>
<text x="1296.5" y="183.7" font-family="Liberation Serif, serif" font-weight="bold" font-size="15" fill="#262626">0.4</text>
<path d="M1290.2 221.5h-4" stroke="#555" stroke-width="1"/>
<text x="1296.5" y="226.7" font-family="Liberation Serif, serif" font-weight="bold" font-size="15" fill="#262626">0.2</text>
<path d="M1290.2 264.5h-4" stroke="#555" stroke-width="1"/>
<text x="1296.5" y="269.7" font-family="Liberation Serif, serif" font-weight="bold" font-size="15" fill="#262626">0</text>
<path d="M1290.2 307.5h-4" stroke="#555" stroke-width="1"/>
<text x="1296.5" y="312.7" font-family="Liberation Serif, serif" font-weight="bold" font-size="15" fill="#262626">-0.2</text>
<path d="M1290.2 350.5h-4" stroke="#555" stroke-width="1"/>
<text x="1296.5" y="355.7" font-family="Liberation Serif, serif" font-weight="bold" font-size="15" fill="#262626">-0.4</text>
<path d="M1290.2 393.6h-4" stroke="#555" stroke-width="1"/>
<text x="1296.5" y="398.8" font-family="Liberation Serif, serif" font-weight="bold" font-size="15" fill="#262626">-0.6</text>
<path d="M1290.2 436.6h-4" stroke="#555" stroke-width="1"/>
<text x="1296.5" y="441.8" font-family="Liberation Serif, serif" font-weight="bold" font-size="15" fill="#262626">-0.8</text>
<path d="M1290.2 479.6h-4" stroke="#555" stroke-width="1"/>
<text x="1296.5" y="484.8" font-family="Liberation Serif, serif" font-weight="bold" font-size="15" fill="#262626">-1</text>
<text x="1256.5" y="41" font-family="Liberation Serif, serif" font-weight="bold" font-size="15.5" fill="#111">(mg/m<tspan dy="-8" font-size="12.5">3</tspan><tspan dy="8">)</tspan></text>
<text x="1036" y="582" text-anchor="middle" font-family="Liberation Serif, serif" font-size="40" fill="#000">(<tspan font-weight="bold">b</tspan>)</text>
<defs><clipPath id="clipBr"><rect x="782.7" y="49" width="465.8" height="432.0"/></clipPath></defs>
<g clip-path="url(#clipBr)"><path d="M1007.5 49.0 L1015.0 59.3 L1025.3 68.0 M1049.4 97.2 L1057.2 104.1 L1054.6 108.4 L1035.7 108.4 L1015.0 106.7 L1002.3 105.8 L995.4 111.0 L998.0 116.0 M1027.0 139.0 L1030.5 138.5 L1049.4 150.5 L1063.2 160.9 L1075.2 172.9 L1087.3 186.7 L1094.2 197.0 M1121.7 226.3 L1126.9 238.3 L1130.3 252.1 L1132.0 265.0 L1128.6 271.9 L1121.7 278.8 L1113.1 283.9 L1107.9 289.1 L1106.2 296.0 L1105.0 300.0 M1080.4 325.2 L1071.8 327.0 L1058.0 326.1 L1040.8 328.7 L1025.3 329.5 M1248.5 64.0 L1235.3 69.7 M1202.6 80.8 L1197.4 88.6 L1192.3 96.3 L1187.1 95.5 L1175.0 79.1 L1171.6 76.5 L1163.0 75.7 L1147.5 81.7 M1118.0 94.0 L1104.5 100.6 L1092.5 106.7 L1104.5 121.3 L1118.3 133.3 L1135.5 143.7 M1173.3 159.2 L1180.2 169.5 L1187.1 183.2 L1195.7 197.0 L1204.3 210.8 L1214.7 224.6 M1237.0 262.4 L1233.6 273.6 L1230.1 299.4 L1228.4 316.6 L1230.1 330.4 L1233.6 340.7 L1238.8 347.6 L1249.0 349.3 M871.5 481.0 L873.2 468.1 L876.7 454.3 L880.1 445.7 L885.3 437.1 L890.0 431.0 M909.4 400.0 L909.4 388.9 L916.2 375.2 L919.7 361.4 L923.1 347.6 L926.6 333.8 L928.3 320.1 L928.0 316.0 M924.9 278.0 L923.6 265.8 L922.0 250.1 L918.9 234.3 L915.7 215.5 L914.9 202.9 L915.7 191.9 L918.0 186.0 M946.0 170.0 L950.0 171.0 L959.7 174.6 L962.9 187.2 L967.6 201.3 L975.5 207.6 L988.0 217.0 L994.3 226.5 L996.0 230.0 M1015.0 262.0 L1014.8 268.9 L1018.0 281.5 L1013.2 287.8 L1008.5 289.4 L1010.0 298.0 L1010.0 305.0 M1010.1 289.4 L1006.9 287.8 L999.1 281.5 L991.2 273.6 L981.8 262.6 L975.0 257.0 M971.5 262.0 L973.1 282.2 L974.0 299.4 L974.8 316.6 L974.0 333.8 L973.1 347.6 M967.9 382.0 L967.9 385.5 L962.7 399.2 L957.6 416.5 L952.4 430.2 L947.2 444.0 L942.1 454.3 L936.9 464.6 L930.0 481.0 M1021.9 336.0 L1035.7 344.2 L1049.4 349.3 L1063.2 356.2 L1075.2 364.8 L1083.8 371.7 L1089.0 378.6 L1090.7 387.0 M1097.0 430.0 L1095.9 433.7 L1090.7 444.0 L1083.8 454.3 L1075.2 462.9 L1059.8 475.0 L1054.6 481.0 M1249.0 368.0 L1243.9 378.6 L1237.0 388.9 L1228.4 402.7 L1218.1 416.5 L1212.9 425.1 M1190.0 458.0 L1187.1 463.0 L1178.5 471.5 L1169.9 481.0 M906.0 49.0 L909.0 59.0 L908.5 68.0 L906.5 77.0 M892.2 214.2 L897.3 219.4 L900.8 228.0 L897.3 233.2 L892.2 234.9" fill="none" stroke="#111" stroke-width="1.7" stroke-dasharray="6 4"/>
<text transform="translate(1037,82) rotate(50)" text-anchor="middle" dy="4" font-family="Liberation Serif, serif" font-size="12.5" fill="#111">0.025</text>
<text transform="translate(1132,89) rotate(-24)" text-anchor="middle" dy="4" font-family="Liberation Serif, serif" font-size="12.5" fill="#111">0.025</text>
<text transform="translate(1218,74) rotate(-19)" text-anchor="middle" dy="4" font-family="Liberation Serif, serif" font-size="12.5" fill="#111">0.025</text>
<text transform="translate(1156,145) rotate(22)" text-anchor="middle" dy="4" font-family="Liberation Serif, serif" font-size="12.5" fill="#111">0.025</text>
<text transform="translate(1227,243) rotate(60)" text-anchor="middle" dy="4" font-family="Liberation Serif, serif" font-size="12.5" fill="#111">0.025</text>
<text transform="translate(1012,128) rotate(38)" text-anchor="middle" dy="4" font-family="Liberation Serif, serif" font-size="12.5" fill="#111">0.025</text>
<text transform="translate(1108,210) rotate(47)" text-anchor="middle" dy="4" font-family="Liberation Serif, serif" font-size="12.5" fill="#111">0.025</text>
<text transform="translate(1006,245) rotate(64)" text-anchor="middle" dy="4" font-family="Liberation Serif, serif" font-size="12.5" fill="#111">0.025</text>
<text transform="translate(963,248) rotate(-60)" text-anchor="middle" dy="4" font-family="Liberation Serif, serif" font-size="12.5" fill="#111">0.025</text>
<text transform="translate(930,174) rotate(-38)" text-anchor="middle" dy="4" font-family="Liberation Serif, serif" font-size="12.5" fill="#111">0.025</text>
<text transform="translate(925,293) rotate(90)" text-anchor="middle" dy="4" font-family="Liberation Serif, serif" font-size="12.5" fill="#111">0.025</text>
<text transform="translate(900,416) rotate(-65)" text-anchor="middle" dy="4" font-family="Liberation Serif, serif" font-size="12.5" fill="#111">0.025</text>
<text transform="translate(970,364) rotate(-85)" text-anchor="middle" dy="4" font-family="Liberation Serif, serif" font-size="12.5" fill="#111">0.025</text>
<text transform="translate(1097,409) rotate(80)" text-anchor="middle" dy="4" font-family="Liberation Serif, serif" font-size="12.5" fill="#111">0.025</text>
<text transform="translate(1203,443) rotate(-55)" text-anchor="middle" dy="4" font-family="Liberation Serif, serif" font-size="12.5" fill="#111">0.025</text>
<text transform="translate(1100,312) rotate(-62)" text-anchor="middle" dy="4" font-family="Liberation Serif, serif" font-size="12.5" fill="#111">0.025</text>
<text transform="translate(1015,322) rotate(65)" text-anchor="middle" dy="4" font-family="Liberation Serif, serif" font-size="12.5" fill="#111">0.025</text>
</g>
</svg></body></html>
